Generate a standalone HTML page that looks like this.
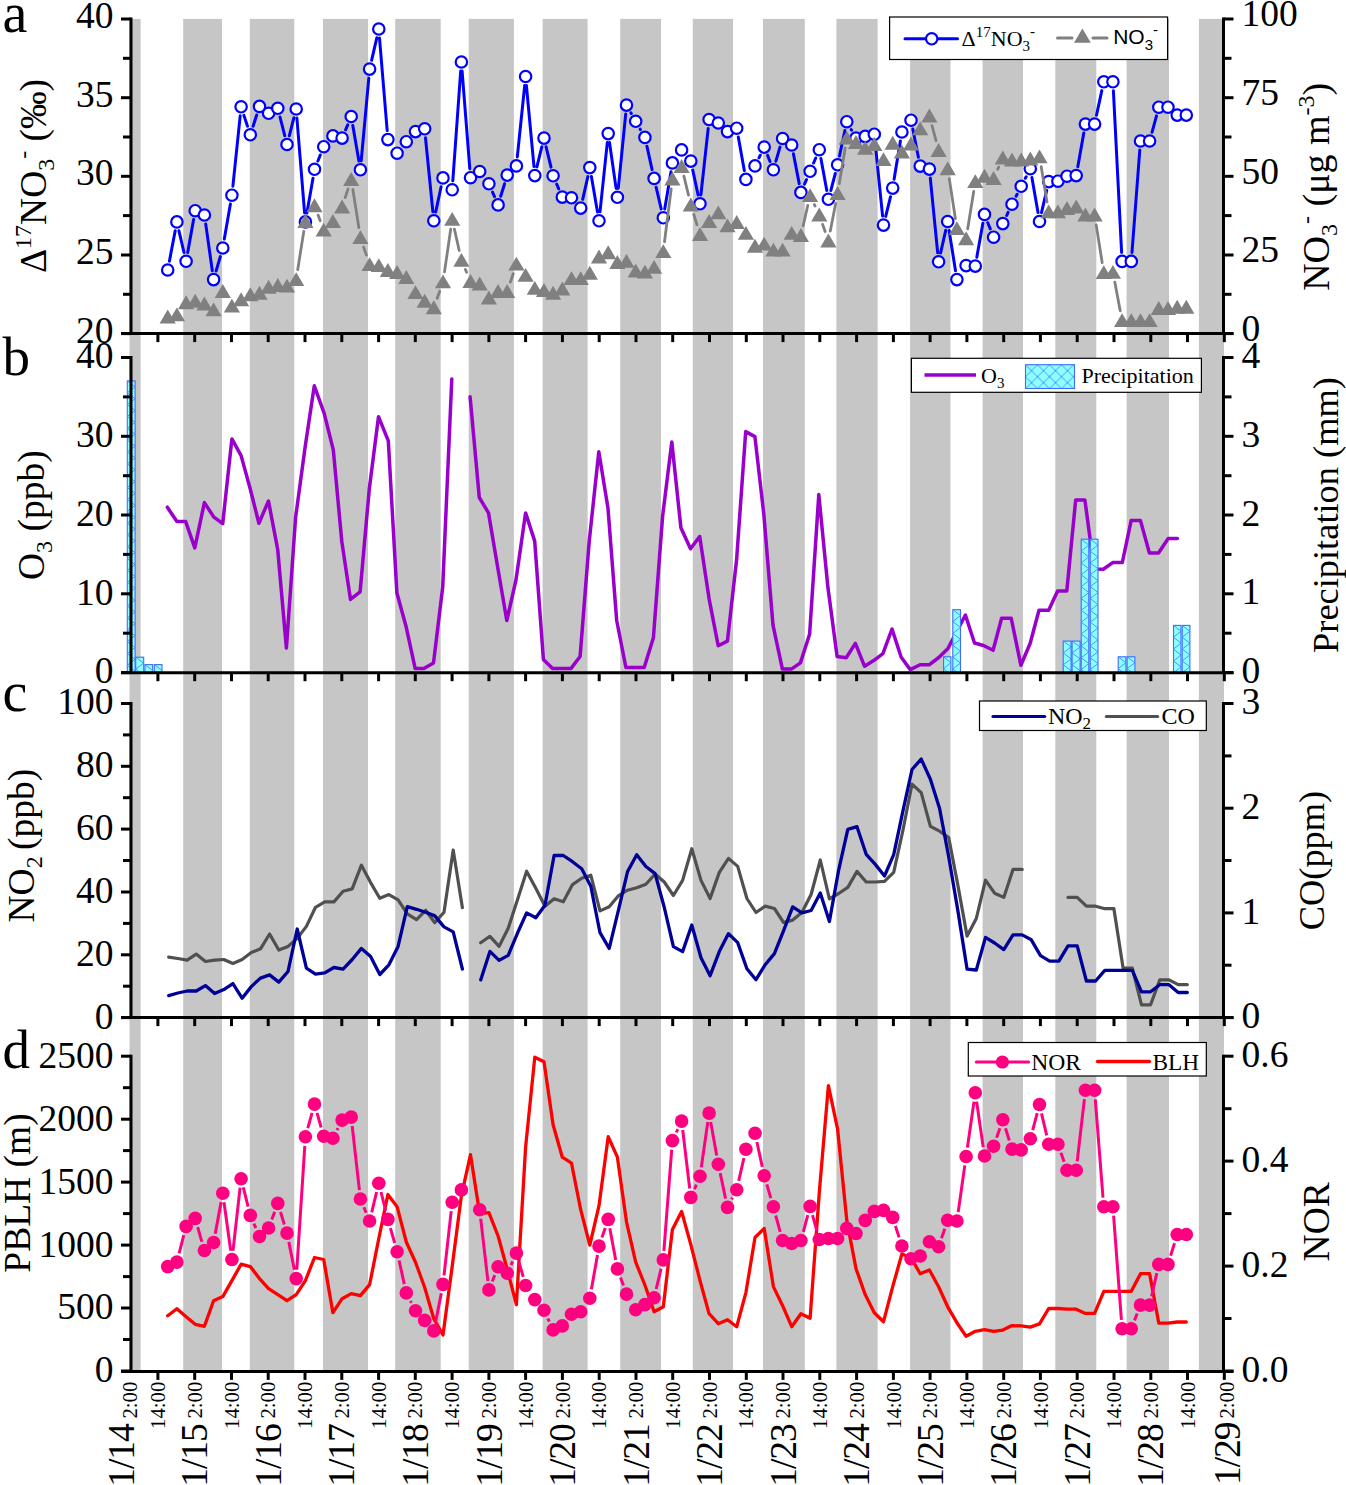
<!DOCTYPE html>
<html><head><meta charset="utf-8"><title>figure</title>
<style>
html,body{margin:0;padding:0;background:#fff;overflow:hidden;width:1346px;height:1485px;}
svg{display:block;}
text{font-family:"Liberation Serif",serif;fill:#000;}
</style></head><body>
<svg width="1346" height="1485" viewBox="0 0 1346 1485">
<defs><pattern id="hatch" patternUnits="userSpaceOnUse" width="7.8" height="11.8" x="0" y="0"><path d="M0 0L7.8 5.9L0 11.8M7.8 -5.9L0 0M7.8 17.7L0 11.8M0 0L7.8 -5.9" stroke="#3f78ff" stroke-width="0.9" fill="none"/></pattern><pattern id="hatch2" patternUnits="userSpaceOnUse" width="12" height="12" x="1025.5" y="364.7"><path d="M0 0L12 12M12 0L0 12M-6 6L6 -6M6 18L18 6M-6 6L6 18M6 -6L18 6" stroke="#4a86ff" stroke-width="0.9" fill="none"/></pattern></defs>
<rect width="1346" height="1485" fill="#fff"/>
<rect x="129.5" y="18.9" width="11.1" height="1352.1" fill="#c6c6c6"/>
<rect x="183.2" y="18.9" width="38.8" height="1352.1" fill="#c6c6c6"/>
<rect x="249.8" y="18.9" width="44.5" height="1352.1" fill="#c6c6c6"/>
<rect x="323" y="18.9" width="45" height="1352.1" fill="#c6c6c6"/>
<rect x="395.2" y="18.9" width="45.5" height="1352.1" fill="#c6c6c6"/>
<rect x="468.7" y="18.9" width="45.2" height="1352.1" fill="#c6c6c6"/>
<rect x="542.6" y="18.9" width="45" height="1352.1" fill="#c6c6c6"/>
<rect x="620.2" y="18.9" width="40.8" height="1352.1" fill="#c6c6c6"/>
<rect x="692.8" y="18.9" width="40.2" height="1352.1" fill="#c6c6c6"/>
<rect x="763" y="18.9" width="41.8" height="1352.1" fill="#c6c6c6"/>
<rect x="836.4" y="18.9" width="41.2" height="1352.1" fill="#c6c6c6"/>
<rect x="910.1" y="18.9" width="40.4" height="1352.1" fill="#c6c6c6"/>
<rect x="982.6" y="18.9" width="40.4" height="1352.1" fill="#c6c6c6"/>
<rect x="1055.3" y="18.9" width="41" height="1352.1" fill="#c6c6c6"/>
<rect x="1126.6" y="18.9" width="42.4" height="1352.1" fill="#c6c6c6"/>
<rect x="1198.9" y="18.9" width="25.1" height="1352.1" fill="#c6c6c6"/>
<path d="M169.4 261.2L175.2 230.7M178.9 230.7L184 252.5M187.7 252.4L193.6 219.6M205.7 223.9L212.3 270.7M216.1 271L220.3 256.6M224.3 239.1L230.4 204.1M232.9 186.2L240.2 115.8M243.9 115.4L247.5 126.2M253.1 126.2L256.7 115M280 117L284.8 135.8M289.3 135.8L293.9 117.7M296.9 118L304.6 212.9M306.9 213L313 178.2M317.9 161L320.3 155M345.6 129.8L347.7 124.8M352.8 125.4L358.9 160.9M361.2 160.8L368.8 78.1M371.6 60.3L376.8 37.8M379.5 38L387.2 130.6M425.5 137.8L432.9 211.8M435.7 212L441.1 186.7M452.8 180.8L460.7 71M462.1 71L469.8 168.7M492.5 192.1L494.5 196.6M500.7 196.3L504.6 183.7M517.3 156.9L524.7 85.5M526.4 85.5L534 166.6M536.9 166.9L541.8 146.8M546.1 146.8L551 167.1M556.7 184.1L558.7 188.8M582.7 199.3L587.9 176.4M591.4 176.5L597.5 211.9M600 211.8L607.3 142.6M609.5 142.5L616.1 188.4M618.3 188.3L625.7 114.1M631 112.9L631.3 113.5M640.2 129.1L640.4 129.6M646.9 146.2L652.1 169.6M656.1 187.2L661.2 209M664.7 208.9L671 171.8M692.7 169.9L698.1 195M700.9 194.9L708.2 128.4M738.3 137.1L744.3 170.5M759 157.8L760.3 155.2M767.6 155.4L770 161.5M775.9 161.2L780 147.1M793.4 153.8L799.2 183.6M804.5 184.1L806.5 179.6M813.6 163L815.7 158M820.9 158.5L826.8 190.5M830.8 190.6L835.3 173.5M839.5 156L844.9 130.5M851.2 129.6L851.6 130.2M875.2 143.2L882.6 216.1M885.7 216.4L890.5 196.8M894.1 179.2L900.4 140.9M912.8 129L918.4 157.3M930.3 178.1L937.7 252.8M940.6 253L945.7 230.3M949.1 230.4L955.5 270.7M976.8 257.2L982.9 223.3M987.8 222.7L990.3 228.9M1006.7 215.5L1008.1 212.3M1016.1 196.2L1017.1 194.3M1025.3 178.3L1026.2 176.7M1031.9 177.6L1038 212.6M1041.5 212.7L1046.7 190.4M1077.8 166.7L1083.8 133M1096.5 115.3L1101.8 90.6M1113.4 90.8L1121.6 252.4M1132 252.4L1139.8 150M1152 132.3L1156.5 115.9" stroke="#0000ff" stroke-width="3" fill="none" stroke-linecap="round"/>
<circle cx="167.7" cy="270" r="5.7" fill="#fff" stroke="#0000ff" stroke-width="2.2"/>
<circle cx="176.9" cy="221.9" r="5.7" fill="#fff" stroke="#0000ff" stroke-width="2.2"/>
<circle cx="186.1" cy="261.3" r="5.7" fill="#fff" stroke="#0000ff" stroke-width="2.2"/>
<circle cx="195.2" cy="210.7" r="5.7" fill="#fff" stroke="#0000ff" stroke-width="2.2"/>
<circle cx="204.4" cy="215" r="5.7" fill="#fff" stroke="#0000ff" stroke-width="2.2"/>
<circle cx="213.6" cy="279.6" r="5.7" fill="#fff" stroke="#0000ff" stroke-width="2.2"/>
<circle cx="222.8" cy="248" r="5.7" fill="#fff" stroke="#0000ff" stroke-width="2.2"/>
<circle cx="231.9" cy="195.2" r="5.7" fill="#fff" stroke="#0000ff" stroke-width="2.2"/>
<circle cx="241.1" cy="106.8" r="5.7" fill="#fff" stroke="#0000ff" stroke-width="2.2"/>
<circle cx="250.3" cy="134.8" r="5.7" fill="#fff" stroke="#0000ff" stroke-width="2.2"/>
<circle cx="259.5" cy="106.4" r="5.7" fill="#fff" stroke="#0000ff" stroke-width="2.2"/>
<circle cx="268.6" cy="113.3" r="5.7" fill="#fff" stroke="#0000ff" stroke-width="2.2"/>
<circle cx="277.8" cy="108.3" r="5.7" fill="#fff" stroke="#0000ff" stroke-width="2.2"/>
<circle cx="287" cy="144.5" r="5.7" fill="#fff" stroke="#0000ff" stroke-width="2.2"/>
<circle cx="296.2" cy="109" r="5.7" fill="#fff" stroke="#0000ff" stroke-width="2.2"/>
<circle cx="305.4" cy="221.9" r="5.7" fill="#fff" stroke="#0000ff" stroke-width="2.2"/>
<circle cx="314.5" cy="169.3" r="5.7" fill="#fff" stroke="#0000ff" stroke-width="2.2"/>
<circle cx="323.7" cy="146.7" r="5.7" fill="#fff" stroke="#0000ff" stroke-width="2.2"/>
<circle cx="332.9" cy="135.9" r="5.7" fill="#fff" stroke="#0000ff" stroke-width="2.2"/>
<circle cx="342.1" cy="138.1" r="5.7" fill="#fff" stroke="#0000ff" stroke-width="2.2"/>
<circle cx="351.2" cy="116.5" r="5.7" fill="#fff" stroke="#0000ff" stroke-width="2.2"/>
<circle cx="360.4" cy="169.8" r="5.7" fill="#fff" stroke="#0000ff" stroke-width="2.2"/>
<circle cx="369.6" cy="69.1" r="5.7" fill="#fff" stroke="#0000ff" stroke-width="2.2"/>
<circle cx="378.8" cy="29" r="5.7" fill="#fff" stroke="#0000ff" stroke-width="2.2"/>
<circle cx="387.9" cy="139.6" r="5.7" fill="#fff" stroke="#0000ff" stroke-width="2.2"/>
<circle cx="397.1" cy="153.2" r="5.7" fill="#fff" stroke="#0000ff" stroke-width="2.2"/>
<circle cx="406.3" cy="141.7" r="5.7" fill="#fff" stroke="#0000ff" stroke-width="2.2"/>
<circle cx="415.5" cy="131.6" r="5.7" fill="#fff" stroke="#0000ff" stroke-width="2.2"/>
<circle cx="424.7" cy="128.8" r="5.7" fill="#fff" stroke="#0000ff" stroke-width="2.2"/>
<circle cx="433.8" cy="220.8" r="5.7" fill="#fff" stroke="#0000ff" stroke-width="2.2"/>
<circle cx="443" cy="177.9" r="5.7" fill="#fff" stroke="#0000ff" stroke-width="2.2"/>
<circle cx="452.2" cy="189.8" r="5.7" fill="#fff" stroke="#0000ff" stroke-width="2.2"/>
<circle cx="461.4" cy="62" r="5.7" fill="#fff" stroke="#0000ff" stroke-width="2.2"/>
<circle cx="470.5" cy="177.7" r="5.7" fill="#fff" stroke="#0000ff" stroke-width="2.2"/>
<circle cx="479.7" cy="171.5" r="5.7" fill="#fff" stroke="#0000ff" stroke-width="2.2"/>
<circle cx="488.9" cy="183.8" r="5.7" fill="#fff" stroke="#0000ff" stroke-width="2.2"/>
<circle cx="498.1" cy="204.9" r="5.7" fill="#fff" stroke="#0000ff" stroke-width="2.2"/>
<circle cx="507.2" cy="175.1" r="5.7" fill="#fff" stroke="#0000ff" stroke-width="2.2"/>
<circle cx="516.4" cy="165.9" r="5.7" fill="#fff" stroke="#0000ff" stroke-width="2.2"/>
<circle cx="525.6" cy="76.5" r="5.7" fill="#fff" stroke="#0000ff" stroke-width="2.2"/>
<circle cx="534.8" cy="175.6" r="5.7" fill="#fff" stroke="#0000ff" stroke-width="2.2"/>
<circle cx="544" cy="138.1" r="5.7" fill="#fff" stroke="#0000ff" stroke-width="2.2"/>
<circle cx="553.1" cy="175.8" r="5.7" fill="#fff" stroke="#0000ff" stroke-width="2.2"/>
<circle cx="562.3" cy="197.1" r="5.7" fill="#fff" stroke="#0000ff" stroke-width="2.2"/>
<circle cx="571.5" cy="197.8" r="5.7" fill="#fff" stroke="#0000ff" stroke-width="2.2"/>
<circle cx="580.7" cy="208.1" r="5.7" fill="#fff" stroke="#0000ff" stroke-width="2.2"/>
<circle cx="589.8" cy="167.6" r="5.7" fill="#fff" stroke="#0000ff" stroke-width="2.2"/>
<circle cx="599" cy="220.8" r="5.7" fill="#fff" stroke="#0000ff" stroke-width="2.2"/>
<circle cx="608.2" cy="133.6" r="5.7" fill="#fff" stroke="#0000ff" stroke-width="2.2"/>
<circle cx="617.4" cy="197.3" r="5.7" fill="#fff" stroke="#0000ff" stroke-width="2.2"/>
<circle cx="626.5" cy="105.1" r="5.7" fill="#fff" stroke="#0000ff" stroke-width="2.2"/>
<circle cx="635.7" cy="121.3" r="5.7" fill="#fff" stroke="#0000ff" stroke-width="2.2"/>
<circle cx="644.9" cy="137.4" r="5.7" fill="#fff" stroke="#0000ff" stroke-width="2.2"/>
<circle cx="654.1" cy="178.4" r="5.7" fill="#fff" stroke="#0000ff" stroke-width="2.2"/>
<circle cx="663.3" cy="217.8" r="5.7" fill="#fff" stroke="#0000ff" stroke-width="2.2"/>
<circle cx="672.4" cy="162.9" r="5.7" fill="#fff" stroke="#0000ff" stroke-width="2.2"/>
<circle cx="681.6" cy="149.9" r="5.7" fill="#fff" stroke="#0000ff" stroke-width="2.2"/>
<circle cx="690.8" cy="161.1" r="5.7" fill="#fff" stroke="#0000ff" stroke-width="2.2"/>
<circle cx="700" cy="203.8" r="5.7" fill="#fff" stroke="#0000ff" stroke-width="2.2"/>
<circle cx="709.1" cy="119.5" r="5.7" fill="#fff" stroke="#0000ff" stroke-width="2.2"/>
<circle cx="718.3" cy="123" r="5.7" fill="#fff" stroke="#0000ff" stroke-width="2.2"/>
<circle cx="727.5" cy="131.6" r="5.7" fill="#fff" stroke="#0000ff" stroke-width="2.2"/>
<circle cx="736.7" cy="128.2" r="5.7" fill="#fff" stroke="#0000ff" stroke-width="2.2"/>
<circle cx="745.9" cy="179.4" r="5.7" fill="#fff" stroke="#0000ff" stroke-width="2.2"/>
<circle cx="755" cy="165.9" r="5.7" fill="#fff" stroke="#0000ff" stroke-width="2.2"/>
<circle cx="764.2" cy="147.1" r="5.7" fill="#fff" stroke="#0000ff" stroke-width="2.2"/>
<circle cx="773.4" cy="169.8" r="5.7" fill="#fff" stroke="#0000ff" stroke-width="2.2"/>
<circle cx="782.6" cy="138.5" r="5.7" fill="#fff" stroke="#0000ff" stroke-width="2.2"/>
<circle cx="791.7" cy="145" r="5.7" fill="#fff" stroke="#0000ff" stroke-width="2.2"/>
<circle cx="800.9" cy="192.4" r="5.7" fill="#fff" stroke="#0000ff" stroke-width="2.2"/>
<circle cx="810.1" cy="171.3" r="5.7" fill="#fff" stroke="#0000ff" stroke-width="2.2"/>
<circle cx="819.3" cy="149.7" r="5.7" fill="#fff" stroke="#0000ff" stroke-width="2.2"/>
<circle cx="828.4" cy="199.3" r="5.7" fill="#fff" stroke="#0000ff" stroke-width="2.2"/>
<circle cx="837.6" cy="164.8" r="5.7" fill="#fff" stroke="#0000ff" stroke-width="2.2"/>
<circle cx="846.8" cy="121.7" r="5.7" fill="#fff" stroke="#0000ff" stroke-width="2.2"/>
<circle cx="856" cy="138.1" r="5.7" fill="#fff" stroke="#0000ff" stroke-width="2.2"/>
<circle cx="865.2" cy="136.4" r="5.7" fill="#fff" stroke="#0000ff" stroke-width="2.2"/>
<circle cx="874.3" cy="134.2" r="5.7" fill="#fff" stroke="#0000ff" stroke-width="2.2"/>
<circle cx="883.5" cy="225.1" r="5.7" fill="#fff" stroke="#0000ff" stroke-width="2.2"/>
<circle cx="892.7" cy="188.1" r="5.7" fill="#fff" stroke="#0000ff" stroke-width="2.2"/>
<circle cx="901.9" cy="132" r="5.7" fill="#fff" stroke="#0000ff" stroke-width="2.2"/>
<circle cx="911" cy="120.2" r="5.7" fill="#fff" stroke="#0000ff" stroke-width="2.2"/>
<circle cx="920.2" cy="166.1" r="5.7" fill="#fff" stroke="#0000ff" stroke-width="2.2"/>
<circle cx="929.4" cy="169.1" r="5.7" fill="#fff" stroke="#0000ff" stroke-width="2.2"/>
<circle cx="938.6" cy="261.8" r="5.7" fill="#fff" stroke="#0000ff" stroke-width="2.2"/>
<circle cx="947.7" cy="221.5" r="5.7" fill="#fff" stroke="#0000ff" stroke-width="2.2"/>
<circle cx="956.9" cy="279.6" r="5.7" fill="#fff" stroke="#0000ff" stroke-width="2.2"/>
<circle cx="966.1" cy="265.6" r="5.7" fill="#fff" stroke="#0000ff" stroke-width="2.2"/>
<circle cx="975.3" cy="266.1" r="5.7" fill="#fff" stroke="#0000ff" stroke-width="2.2"/>
<circle cx="984.5" cy="214.4" r="5.7" fill="#fff" stroke="#0000ff" stroke-width="2.2"/>
<circle cx="993.6" cy="237.2" r="5.7" fill="#fff" stroke="#0000ff" stroke-width="2.2"/>
<circle cx="1002.8" cy="223.6" r="5.7" fill="#fff" stroke="#0000ff" stroke-width="2.2"/>
<circle cx="1012" cy="204.2" r="5.7" fill="#fff" stroke="#0000ff" stroke-width="2.2"/>
<circle cx="1021.2" cy="186.3" r="5.7" fill="#fff" stroke="#0000ff" stroke-width="2.2"/>
<circle cx="1030.3" cy="168.7" r="5.7" fill="#fff" stroke="#0000ff" stroke-width="2.2"/>
<circle cx="1039.5" cy="221.5" r="5.7" fill="#fff" stroke="#0000ff" stroke-width="2.2"/>
<circle cx="1048.7" cy="181.6" r="5.7" fill="#fff" stroke="#0000ff" stroke-width="2.2"/>
<circle cx="1057.9" cy="181.2" r="5.7" fill="#fff" stroke="#0000ff" stroke-width="2.2"/>
<circle cx="1067" cy="176.2" r="5.7" fill="#fff" stroke="#0000ff" stroke-width="2.2"/>
<circle cx="1076.2" cy="175.6" r="5.7" fill="#fff" stroke="#0000ff" stroke-width="2.2"/>
<circle cx="1085.4" cy="124.1" r="5.7" fill="#fff" stroke="#0000ff" stroke-width="2.2"/>
<circle cx="1094.6" cy="124.1" r="5.7" fill="#fff" stroke="#0000ff" stroke-width="2.2"/>
<circle cx="1103.8" cy="81.8" r="5.7" fill="#fff" stroke="#0000ff" stroke-width="2.2"/>
<circle cx="1112.9" cy="81.8" r="5.7" fill="#fff" stroke="#0000ff" stroke-width="2.2"/>
<circle cx="1122.1" cy="261.4" r="5.7" fill="#fff" stroke="#0000ff" stroke-width="2.2"/>
<circle cx="1131.3" cy="261.4" r="5.7" fill="#fff" stroke="#0000ff" stroke-width="2.2"/>
<circle cx="1140.5" cy="141" r="5.7" fill="#fff" stroke="#0000ff" stroke-width="2.2"/>
<circle cx="1149.6" cy="141" r="5.7" fill="#fff" stroke="#0000ff" stroke-width="2.2"/>
<circle cx="1158.8" cy="107.2" r="5.7" fill="#fff" stroke="#0000ff" stroke-width="2.2"/>
<circle cx="1168" cy="107.2" r="5.7" fill="#fff" stroke="#0000ff" stroke-width="2.2"/>
<circle cx="1177.2" cy="115.1" r="5.7" fill="#fff" stroke="#0000ff" stroke-width="2.2"/>
<circle cx="1186.3" cy="115.1" r="5.7" fill="#fff" stroke="#0000ff" stroke-width="2.2"/>
<path d="M297.7 269.7L303.8 231.4M318.1 215.1L320.2 220.7M345.2 197.5L348.1 188.9M352.8 189.3L358.9 227.7M363.6 247.1L366.4 255.1M437.2 298.3L439.7 291.2M444.5 271.9L450.7 229.2M454.4 229.1L459.2 250.5M465.4 269.5L466.6 272.2M510.4 282L513.3 273.6M664.5 241.7L671.2 188.9M683.9 176.2L688.5 195.2M693.8 214.4L697 224.9M803.2 225.8L807.8 205.3M814.4 204.6L815 206M822.6 224.4L825.1 231.5M830.3 231.1L835.7 203.3M839.3 183.6L845.2 148M932 125.6L936 140.7M949.3 178.6L955.4 218.7M967.7 228.8L973.7 191.5M997.7 169.3L998.7 167M1041.2 166.7L1047 201.9M1096.2 224.9L1102.2 262.7M1114.8 282.1L1120.2 310.8" stroke="#808080" stroke-width="2.8" fill="none" stroke-linecap="round"/>
<path d="M167.7 309.5L175.8 323.4L159.6 323.4Z" fill="#808080"/>
<path d="M176.9 307.4L185 321.3L168.8 321.3Z" fill="#808080"/>
<path d="M186.1 295.3L194.2 309.2L178 309.2Z" fill="#808080"/>
<path d="M195.2 293.8L203.3 307.7L187.1 307.7Z" fill="#808080"/>
<path d="M204.4 296.6L212.5 310.5L196.3 310.5Z" fill="#808080"/>
<path d="M213.6 302.4L221.7 316.3L205.5 316.3Z" fill="#808080"/>
<path d="M222.8 284.1L230.9 298L214.7 298Z" fill="#808080"/>
<path d="M231.9 298.7L240 312.6L223.8 312.6Z" fill="#808080"/>
<path d="M241.1 292.3L249.2 306.2L233 306.2Z" fill="#808080"/>
<path d="M250.3 287.3L258.4 301.2L242.2 301.2Z" fill="#808080"/>
<path d="M259.5 285.8L267.6 299.7L251.4 299.7Z" fill="#808080"/>
<path d="M268.6 279.8L276.7 293.7L260.5 293.7Z" fill="#808080"/>
<path d="M277.8 278.1L285.9 292L269.7 292Z" fill="#808080"/>
<path d="M287 278.7L295.1 292.6L278.9 292.6Z" fill="#808080"/>
<path d="M296.2 272.2L304.3 286.1L288.1 286.1Z" fill="#808080"/>
<path d="M305.4 214.1L313.5 228L297.3 228Z" fill="#808080"/>
<path d="M314.5 198.3L322.6 212.2L306.4 212.2Z" fill="#808080"/>
<path d="M323.7 222.7L331.8 236.6L315.6 236.6Z" fill="#808080"/>
<path d="M332.9 214.1L341 228L324.8 228Z" fill="#808080"/>
<path d="M342.1 199.6L350.2 213.5L334 213.5Z" fill="#808080"/>
<path d="M351.2 172L359.3 185.9L343.1 185.9Z" fill="#808080"/>
<path d="M360.4 230.2L368.5 244.1L352.3 244.1Z" fill="#808080"/>
<path d="M369.6 257.2L377.7 271.1L361.5 271.1Z" fill="#808080"/>
<path d="M378.8 258.2L386.9 272.1L370.7 272.1Z" fill="#808080"/>
<path d="M387.9 263L396 276.9L379.8 276.9Z" fill="#808080"/>
<path d="M397.1 265.1L405.2 279L389 279Z" fill="#808080"/>
<path d="M406.3 270.1L414.4 284L398.2 284Z" fill="#808080"/>
<path d="M415.5 285.2L423.6 299.1L407.4 299.1Z" fill="#808080"/>
<path d="M424.7 293.8L432.8 307.7L416.6 307.7Z" fill="#808080"/>
<path d="M433.8 300.3L441.9 314.2L425.7 314.2Z" fill="#808080"/>
<path d="M443 274.4L451.1 288.3L434.9 288.3Z" fill="#808080"/>
<path d="M452.2 211.9L460.3 225.8L444.1 225.8Z" fill="#808080"/>
<path d="M461.4 252.9L469.5 266.8L453.3 266.8Z" fill="#808080"/>
<path d="M470.5 274L478.6 287.9L462.4 287.9Z" fill="#808080"/>
<path d="M479.7 276.6L487.8 290.5L471.6 290.5Z" fill="#808080"/>
<path d="M488.9 290.6L497 304.5L480.8 304.5Z" fill="#808080"/>
<path d="M498.1 284.1L506.2 298L490 298Z" fill="#808080"/>
<path d="M507.2 284.1L515.3 298L499.1 298Z" fill="#808080"/>
<path d="M516.4 256.7L524.5 270.6L508.3 270.6Z" fill="#808080"/>
<path d="M525.6 267.9L533.7 281.8L517.5 281.8Z" fill="#808080"/>
<path d="M534.8 280.9L542.9 294.8L526.7 294.8Z" fill="#808080"/>
<path d="M544 283L552.1 296.9L535.9 296.9Z" fill="#808080"/>
<path d="M553.1 285.8L561.2 299.7L545 299.7Z" fill="#808080"/>
<path d="M562.3 281.5L570.4 295.4L554.2 295.4Z" fill="#808080"/>
<path d="M571.5 271.2L579.6 285.1L563.4 285.1Z" fill="#808080"/>
<path d="M580.7 271.2L588.8 285.1L572.6 285.1Z" fill="#808080"/>
<path d="M589.8 265.8L597.9 279.7L581.7 279.7Z" fill="#808080"/>
<path d="M599 249.6L607.1 263.5L590.9 263.5Z" fill="#808080"/>
<path d="M608.2 245.3L616.3 259.2L600.1 259.2Z" fill="#808080"/>
<path d="M617.4 255L625.5 268.9L609.3 268.9Z" fill="#808080"/>
<path d="M626.5 253.9L634.6 267.8L618.4 267.8Z" fill="#808080"/>
<path d="M635.7 263.6L643.8 277.5L627.6 277.5Z" fill="#808080"/>
<path d="M644.9 264.7L653 278.6L636.8 278.6Z" fill="#808080"/>
<path d="M654.1 259.9L662.2 273.8L646 273.8Z" fill="#808080"/>
<path d="M663.3 244.2L671.4 258.1L655.2 258.1Z" fill="#808080"/>
<path d="M672.4 171.6L680.5 185.5L664.3 185.5Z" fill="#808080"/>
<path d="M681.6 159.1L689.7 173L673.5 173Z" fill="#808080"/>
<path d="M690.8 197.5L698.9 211.4L682.7 211.4Z" fill="#808080"/>
<path d="M700 227L708.1 240.9L691.9 240.9Z" fill="#808080"/>
<path d="M709.1 214.1L717.2 228L701 228Z" fill="#808080"/>
<path d="M718.3 205.4L726.4 219.3L710.2 219.3Z" fill="#808080"/>
<path d="M727.5 218.4L735.6 232.3L719.4 232.3Z" fill="#808080"/>
<path d="M736.7 215.1L744.8 229L728.6 229Z" fill="#808080"/>
<path d="M745.9 225.9L754 239.8L737.8 239.8Z" fill="#808080"/>
<path d="M755 238.8L763.1 252.7L746.9 252.7Z" fill="#808080"/>
<path d="M764.2 236.7L772.3 250.6L756.1 250.6Z" fill="#808080"/>
<path d="M773.4 242.7L781.5 256.6L765.3 256.6Z" fill="#808080"/>
<path d="M782.6 242.7L790.7 256.6L774.5 256.6Z" fill="#808080"/>
<path d="M791.7 225.9L799.8 239.8L783.6 239.8Z" fill="#808080"/>
<path d="M800.9 228.1L809 242L792.8 242Z" fill="#808080"/>
<path d="M810.1 188.2L818.2 202.1L802 202.1Z" fill="#808080"/>
<path d="M819.3 207.6L827.4 221.5L811.2 221.5Z" fill="#808080"/>
<path d="M828.4 233.5L836.5 247.4L820.3 247.4Z" fill="#808080"/>
<path d="M837.6 186.1L845.7 200L829.5 200Z" fill="#808080"/>
<path d="M846.8 130.7L854.9 144.6L838.7 144.6Z" fill="#808080"/>
<path d="M856 135L864.1 148.9L847.9 148.9Z" fill="#808080"/>
<path d="M865.2 140.8L873.3 154.7L857.1 154.7Z" fill="#808080"/>
<path d="M874.3 137.1L882.4 151L866.2 151Z" fill="#808080"/>
<path d="M883.5 152.2L891.6 166.1L875.4 166.1Z" fill="#808080"/>
<path d="M892.7 135.8L900.8 149.7L884.6 149.7Z" fill="#808080"/>
<path d="M901.9 144.6L910 158.5L893.8 158.5Z" fill="#808080"/>
<path d="M911 136.5L919.1 150.4L902.9 150.4Z" fill="#808080"/>
<path d="M920.2 121.4L928.3 135.3L912.1 135.3Z" fill="#808080"/>
<path d="M929.4 108.5L937.5 122.4L921.3 122.4Z" fill="#808080"/>
<path d="M938.6 143L946.7 156.9L930.5 156.9Z" fill="#808080"/>
<path d="M947.7 161.3L955.8 175.2L939.6 175.2Z" fill="#808080"/>
<path d="M956.9 221.2L965 235.1L948.8 235.1Z" fill="#808080"/>
<path d="M966.1 231.3L974.2 245.2L958 245.2Z" fill="#808080"/>
<path d="M975.3 174.2L983.4 188.1L967.2 188.1Z" fill="#808080"/>
<path d="M984.5 168.8L992.6 182.7L976.4 182.7Z" fill="#808080"/>
<path d="M993.6 171L1001.7 184.9L985.5 184.9Z" fill="#808080"/>
<path d="M1002.8 150.5L1010.9 164.4L994.7 164.4Z" fill="#808080"/>
<path d="M1012 152.6L1020.1 166.5L1003.9 166.5Z" fill="#808080"/>
<path d="M1021.2 152.6L1029.3 166.5L1013.1 166.5Z" fill="#808080"/>
<path d="M1030.3 151.6L1038.4 165.5L1022.2 165.5Z" fill="#808080"/>
<path d="M1039.5 149.4L1047.6 163.3L1031.4 163.3Z" fill="#808080"/>
<path d="M1048.7 204.4L1056.8 218.3L1040.6 218.3Z" fill="#808080"/>
<path d="M1057.9 204.4L1066 218.3L1049.8 218.3Z" fill="#808080"/>
<path d="M1067 201.1L1075.1 215L1058.9 215Z" fill="#808080"/>
<path d="M1076.2 199.6L1084.3 213.5L1068.1 213.5Z" fill="#808080"/>
<path d="M1085.4 207.6L1093.5 221.5L1077.3 221.5Z" fill="#808080"/>
<path d="M1094.6 207.6L1102.7 221.5L1086.5 221.5Z" fill="#808080"/>
<path d="M1103.8 265.2L1111.9 279.1L1095.7 279.1Z" fill="#808080"/>
<path d="M1112.9 264.9L1121 278.8L1104.8 278.8Z" fill="#808080"/>
<path d="M1122.1 313.2L1130.2 327.1L1114 327.1Z" fill="#808080"/>
<path d="M1131.3 313.2L1139.4 327.1L1123.2 327.1Z" fill="#808080"/>
<path d="M1140.5 313.2L1148.6 327.1L1132.4 327.1Z" fill="#808080"/>
<path d="M1149.6 313.2L1157.7 327.1L1141.5 327.1Z" fill="#808080"/>
<path d="M1158.8 301.1L1166.9 315L1150.7 315Z" fill="#808080"/>
<path d="M1168 301.1L1176.1 315L1159.9 315Z" fill="#808080"/>
<path d="M1177.2 299.8L1185.3 313.7L1169.1 313.7Z" fill="#808080"/>
<path d="M1186.3 299.8L1194.4 313.7L1178.2 313.7Z" fill="#808080"/>
<polyline points="167.3,507.2 176.9,521.4 185.6,521.4 194.8,547.9 204.4,502.6 213.6,516.8 222.7,523.7 231.9,438.9 241.1,455.6 250.2,488.8 258.9,523.2 268.5,501 277.7,549.5 286.4,648 295.6,517.5 305.2,446.5 314.3,385.8 324.2,413.3 333.3,449.9 341.8,541.5 350.5,599.4 360.1,591.9 369.3,488.8 378.5,416.7 388.3,440.8 396.9,593 406,626.2 415.2,668.6 423.9,668.6 433.5,662.9 442.7,587.3 451.8,378.9" stroke="#9900cc" stroke-width="3.5" fill="none" stroke-linejoin="round" stroke-linecap="round"/>
<polyline points="470.1,396.8 479.3,497.5 488.5,512.9 497.6,566.7 506.8,620.5 515.9,580.4 525.6,512.9 534.7,541.1 543.4,659.4 552.6,668.6 561.7,668.6 570.9,668.6 580.1,656.5 589.2,541.5 598.8,451.7 608,508.3 616.7,620.5 625.9,667.5 635,667.5 644.2,667.5 653.4,637.7 662.6,516.3 671.8,441.9 680.9,527.8 690.5,548.8 699.7,536.5 709.1,598.8 718.2,645.7 727.4,641.1 736.6,559.8 745.7,431.6 754.9,436.6 763.8,514 773,625.1 782.4,669.1 791.3,669.1 800.4,662.9 809.6,634.3 818.8,494.6 827.9,587.3 837.1,656.5 846.2,657.8 855.4,643.4 864.6,666.3 873.7,660.6 882.9,653.7 892,629 901.2,657.2 910.3,669.6 920,664.8 929.1,664.8 938.8,657.5 948,648.4 956.5,632 965.4,615 974.5,643 983.5,645.5 993.1,650.3 1001.6,618.2 1011.2,618.2 1020.9,665.3 1030.1,643.5 1039,610.2 1048.7,610.2 1057.6,590.9 1066.8,590.9 1075.7,499.9 1084.9,499.9 1094.1,569 1103.3,569.2 1112.7,562.6 1122.3,562.6 1131.2,520.4 1140.4,520.4 1149.4,553 1158.5,553 1168.2,538.5 1177.4,538.5" stroke="#9900cc" stroke-width="3.5" fill="none" stroke-linejoin="round" stroke-linecap="round"/>
<rect x="127.3" y="380.9" width="7.8" height="291.8" fill="#8cffff" stroke="#3f6bff" stroke-width="1.1"/>
<polyline points="127.3,380.9 135.1,386.8 127.3,392.8 135.1,398.7 127.3,404.6 135.1,410.5 127.3,416.4 135.1,422.4 127.3,428.3 135.1,434.2 127.3,440.1 135.1,446.1 127.3,452 135.1,457.9 127.3,463.8 135.1,469.8 127.3,475.7 135.1,481.6 127.3,487.5 135.1,493.5 127.3,499.4 135.1,505.3 127.3,511.2 135.1,517.2 127.3,523.1 135.1,529 127.3,534.9 135.1,540.9 127.3,546.8 135.1,552.7 127.3,558.6 135.1,564.6 127.3,570.5 135.1,576.4 127.3,582.3 135.1,588.3 127.3,594.2 135.1,600.1 127.3,606 135.1,612 127.3,617.9 135.1,623.8 127.3,629.8 135.1,635.7 127.3,641.6 135.1,647.5 127.3,653.5 135.1,659.4 127.3,665.3 135.1,671.2 133.2,672.7" stroke="#4a86ff" stroke-width="0.9" fill="none"/>
<rect x="135.7" y="657.2" width="8" height="15.5" fill="#8cffff" stroke="#3f6bff" stroke-width="1.1"/>
<polyline points="135.7,657.2 143.7,663.1 135.7,669.1 140.6,672.7" stroke="#4a86ff" stroke-width="0.9" fill="none"/>
<rect x="144.9" y="664.6" width="7.8" height="8.1" fill="#8cffff" stroke="#3f6bff" stroke-width="1.1"/>
<polyline points="144.9,664.6 152.7,670.5 149.8,672.7" stroke="#4a86ff" stroke-width="0.9" fill="none"/>
<rect x="154.3" y="664.6" width="7.7" height="8.1" fill="#8cffff" stroke="#3f6bff" stroke-width="1.1"/>
<polyline points="154.3,664.6 162,670.5 159.2,672.7" stroke="#4a86ff" stroke-width="0.9" fill="none"/>
<rect x="943.6" y="656.8" width="7.3" height="15.9" fill="#8cffff" stroke="#3f6bff" stroke-width="1.1"/>
<polyline points="943.6,656.8 950.9,662.7 943.6,668.6 948.6,672.7" stroke="#4a86ff" stroke-width="0.9" fill="none"/>
<rect x="952.8" y="609.7" width="7.7" height="63" fill="#8cffff" stroke="#3f6bff" stroke-width="1.1"/>
<polyline points="952.8,609.7 960.5,615.6 952.8,621.6 960.5,627.5 952.8,633.4 960.5,639.3 952.8,645.2 960.5,651.2 952.8,657.1 960.5,663 952.8,669 957.7,672.7" stroke="#4a86ff" stroke-width="0.9" fill="none"/>
<rect x="1063.2" y="641.1" width="7.9" height="31.6" fill="#8cffff" stroke="#3f6bff" stroke-width="1.1"/>
<polyline points="1063.2,641.1 1071.1,647 1063.2,653 1071.1,658.9 1063.2,664.8 1071.1,670.7 1068.5,672.7" stroke="#4a86ff" stroke-width="0.9" fill="none"/>
<rect x="1072.1" y="641.1" width="8" height="31.6" fill="#8cffff" stroke="#3f6bff" stroke-width="1.1"/>
<polyline points="1072.1,641.1 1080.1,647 1072.1,653 1080.1,658.9 1072.1,664.8 1080.1,670.7 1077.4,672.7" stroke="#4a86ff" stroke-width="0.9" fill="none"/>
<rect x="1081.2" y="539.2" width="7.6" height="133.5" fill="#8cffff" stroke="#3f6bff" stroke-width="1.1"/>
<polyline points="1081.2,539.2 1088.8,545.1 1081.2,551.1 1088.8,557 1081.2,562.9 1088.8,568.8 1081.2,574.8 1088.8,580.7 1081.2,586.6 1088.8,592.5 1081.2,598.5 1088.8,604.4 1081.2,610.3 1088.8,616.2 1081.2,622.2 1088.8,628.1 1081.2,634 1088.8,639.9 1081.2,645.9 1088.8,651.8 1081.2,657.7 1088.8,663.6 1081.2,669.6 1085.2,672.7" stroke="#4a86ff" stroke-width="0.9" fill="none"/>
<rect x="1090.2" y="539.2" width="7.8" height="133.5" fill="#8cffff" stroke="#3f6bff" stroke-width="1.1"/>
<polyline points="1090.2,539.2 1098,545.1 1090.2,551.1 1098,557 1090.2,562.9 1098,568.8 1090.2,574.8 1098,580.7 1090.2,586.6 1098,592.5 1090.2,598.5 1098,604.4 1090.2,610.3 1098,616.2 1090.2,622.2 1098,628.1 1090.2,634 1098,639.9 1090.2,645.9 1098,651.8 1090.2,657.7 1098,663.6 1090.2,669.6 1094.3,672.7" stroke="#4a86ff" stroke-width="0.9" fill="none"/>
<rect x="1118.2" y="656.8" width="7.7" height="15.9" fill="#8cffff" stroke="#3f6bff" stroke-width="1.1"/>
<polyline points="1118.2,656.8 1125.9,662.7 1118.2,668.6 1123.5,672.7" stroke="#4a86ff" stroke-width="0.9" fill="none"/>
<rect x="1127.1" y="656.8" width="7.8" height="15.9" fill="#8cffff" stroke="#3f6bff" stroke-width="1.1"/>
<polyline points="1127.1,656.8 1134.9,662.7 1127.1,668.6 1132.4,672.7" stroke="#4a86ff" stroke-width="0.9" fill="none"/>
<rect x="1173.5" y="625.4" width="7.5" height="47.3" fill="#8cffff" stroke="#3f6bff" stroke-width="1.1"/>
<polyline points="1173.5,625.4 1181,631.3 1173.5,637.2 1181,643.2 1173.5,649.1 1181,655 1173.5,660.9 1181,666.9 1173.6,672.7" stroke="#4a86ff" stroke-width="0.9" fill="none"/>
<rect x="1182.2" y="625.4" width="7.7" height="47.3" fill="#8cffff" stroke="#3f6bff" stroke-width="1.1"/>
<polyline points="1182.2,625.4 1189.9,631.3 1182.2,637.2 1189.9,643.2 1182.2,649.1 1189.9,655 1182.2,660.9 1189.9,666.9 1182.3,672.7" stroke="#4a86ff" stroke-width="0.9" fill="none"/>
<polyline points="168.7,957.1 177.9,958.5 187.1,960.1 196.2,954.1 205.4,961.5 214.6,960.1 223.8,959.5 232.9,963.5 242.1,959.5 251.3,952.5 260.5,948.8 269.6,934 278.8,950 288,946.4 297.2,938.4 306.4,926.4 315.5,907.3 324.7,901.9 333.9,901.9 343.1,891.3 352.2,888.9 361.4,865.2 370.6,882.6 379.8,898.3 388.9,894.6 398.1,899.8 407.3,913.9 416.5,919.7 425.7,910.3 434.8,922.7 444,912.3 453.2,850.1 462.4,907.7" stroke="#505050" stroke-width="3.2" fill="none" stroke-linejoin="round" stroke-linecap="round"/>
<polyline points="480.7,942.8 489.9,936.3 499.1,946.4 508.2,928.3 517.4,900 526.6,871.2 535.8,888.2 545,906.3 554.1,898.8 563.3,901.8 572.5,884.6 581.7,878.2 590.8,875.2 600,910.9 609.2,906.7 618.4,895.8 627.5,890.2 636.7,887.8 645.9,884.2 655.1,874 664.3,882 673.4,895.5 682.6,880.4 691.8,848.7 701,880.4 710.1,898.5 719.3,872.4 728.5,858.4 737.7,866.4 746.9,898.5 756,912.5 765.2,906.1 774.4,908.5 783.6,922.5 792.7,920.1 801.9,912.5 811.1,894.5 820.3,860 829.4,898.9 838.6,893.5 847.8,887.4 857,871.4 866.2,882 875.3,882 884.5,881.4 893.7,872.4 902.9,830.3 912,784.1 921.2,792.7 930.4,826.3 939.6,831.2 948.7,837.6 957.9,885.4 967.1,936.1 976.3,918.5 985.5,880.2 994.6,893.2 1003.8,897.4 1013,869.4 1022.2,869.4" stroke="#505050" stroke-width="3.2" fill="none" stroke-linejoin="round" stroke-linecap="round"/>
<polyline points="1068,897.4 1077.2,897.4 1086.4,906.2 1095.6,906.2 1104.8,908.7 1113.9,908.7 1123.1,968 1132.3,968 1141.5,1004.8 1150.6,1004.8 1159.8,979.8 1169,979.8 1178.2,984.7 1187.3,984.7" stroke="#505050" stroke-width="3.2" fill="none" stroke-linejoin="round" stroke-linecap="round"/>
<polyline points="168.7,995.6 177.9,993 187.1,991 196.2,991 205.4,985.6 214.6,993.6 223.8,989.6 232.9,983.6 242.1,998.2 251.3,986.6 260.5,978.1 269.6,974.9 278.8,982.1 288,971.5 297.2,929 306.4,968.1 315.5,974.1 324.7,972.9 333.9,967.5 343.1,969.1 352.2,959.5 361.4,948.4 370.6,956.5 379.8,974.5 388.9,964.8 398.1,946.4 407.3,906.7 416.5,909.3 425.7,912.3 434.8,915.9 444,926.9 453.2,931.9 462.4,969" stroke="#000099" stroke-width="3.3" fill="none" stroke-linejoin="round" stroke-linecap="round"/>
<polyline points="480.7,979.9 489.9,951.4 499.1,960.4 508.2,955.4 517.4,933.3 526.6,912.9 535.8,917.7 545,905.3 554.1,855.5 563.3,855.5 572.5,861.7 581.7,868.7 590.8,886.2 600,932.7 609.2,948.4 618.4,910.3 627.5,871.8 636.7,854.7 645.9,866.5 655.1,873.6 664.3,907.5 673.4,946.6 682.6,951.6 691.8,925 701,957.7 710.1,975.7 719.3,951.6 728.5,933.6 737.7,942.6 746.9,968.7 756,979.7 765.2,964.7 774.4,953.6 783.6,930.6 792.7,906.9 801.9,912.9 811.1,910.5 820.3,892.9 829.4,921.5 838.6,870.4 847.8,829.3 857,826.7 866.2,854.3 875.3,864.4 884.5,876 893.7,854.7 902.9,811.2 912,769.5 921.2,759.1 930.4,779.2 939.6,808.6 948.7,856.8 957.9,910.9 967.1,969.2 976.3,970 985.5,937.4 994.6,943 1003.8,949.6 1013,934.9 1022.2,934.9 1031.3,939.8 1040.5,955.7 1049.7,961.1 1058.9,961.1 1068,945.9 1077.2,945.9 1086.4,981 1095.6,981 1104.8,970.4 1113.9,970.4 1123.1,970.4 1132.3,970.4 1141.5,991.8 1150.6,991.8 1159.8,984.7 1169,984.7 1178.2,992.5 1187.3,992.5" stroke="#000099" stroke-width="3.3" fill="none" stroke-linejoin="round" stroke-linecap="round"/>
<polyline points="167.7,1315.7 176.9,1308.7 186.1,1316.7 195.2,1324.3 204.4,1326.3 213.6,1300.7 222.8,1296.6 231.9,1280.6 241.1,1264.2 250.3,1266.6 259.5,1278.6 268.6,1288.6 277.8,1294.6 287,1300.7 296.2,1294.6 305.4,1280.6 314.5,1257.5 323.7,1259.5 332.9,1312.7 342.1,1298.7 351.2,1293.6 360.4,1295.6 369.6,1284.6 378.8,1238.5 387.9,1194.5 397.1,1206.7 406.3,1242 415.5,1262.2 424.7,1287.5 433.8,1318.8 443,1335 452.2,1266.3 461.4,1195.6 470.5,1154.7 479.7,1213.7 488.9,1212.7 498.1,1236 507.2,1269.3 516.4,1304.6 525.6,1147.1 534.8,1057.2 544,1061.8 553.1,1124.8 562.3,1157.2 571.5,1163.2 580.7,1209.7 589.8,1245.1 599,1205.7 608.2,1136.6 617.4,1157.2 626.5,1221.8 635.7,1262.2 644.9,1285 654.1,1311.7 663.3,1306.7 672.4,1229.4 681.6,1211.4 690.8,1244.5 700,1280.6 709.1,1313.7 718.3,1323.7 727.5,1319.7 736.7,1326.7 745.9,1292.6 755,1237.5 764.2,1228.4 773.4,1286.6 782.6,1305.7 791.7,1326.7 800.9,1313.7 810.1,1318.3 819.3,1192.3 828.4,1085.6 837.6,1129.1 846.8,1220.4 856,1268.6 865.2,1294.6 874.3,1312.7 883.5,1321.7 892.7,1286.6 901.9,1254 911,1257.7 920.2,1273.7 929.4,1270 938.6,1286.7 947.7,1306.8 956.9,1322.7 966.1,1336.2 975.3,1331.3 984.5,1329.6 993.6,1331.3 1002.8,1330.1 1012,1325.6 1021.2,1325.9 1030.3,1327.1 1039.5,1323.9 1048.7,1308.5 1057.9,1308.5 1067,1309.2 1076.2,1309.2 1085.4,1313.4 1094.6,1313.4 1103.8,1291.3 1112.9,1291.3 1122.1,1291.3 1131.3,1291.3 1140.5,1273.7 1149.6,1273.7 1158.8,1323.2 1168,1323.2 1177.2,1322 1186.3,1322" stroke="#ff0000" stroke-width="3.3" fill="none" stroke-linejoin="round" stroke-linecap="round"/>
<path d="M179.1 1253.4L183.8 1235.1M197.7 1227.1L201.9 1241.8M215.2 1233.7L221.1 1202.1M224 1202.2L230.7 1250.6M233 1250.6L240.1 1187.6M243.3 1187.4L248.1 1206.7M253.9 1223.7L255.9 1228.2M271.8 1219.6L274.7 1211.8M280.5 1212L284.3 1224.5M288.8 1241.9L294.4 1269.8M296.8 1269.6L304.8 1145.8M307.8 1128.1L312.1 1112.8M317 1112.8L321.2 1127.5M337 1130.2L338 1128.1M352.2 1126L359.4 1190.1M363.9 1207.3L366.1 1212.7M371.7 1212.3L376.6 1192M381 1192L385.7 1210.7M390.4 1228.1L394.7 1243M399.1 1260.5L404.3 1284.1M410.4 1300.9L411.4 1302.7M435.6 1322.1L441.3 1293.2M444 1275.5L451.2 1211.1M480.7 1218.6L487.9 1281M492.2 1281.5L494.8 1275.1M511 1265.1L512.7 1261.3M518.9 1261.8L523.2 1276.8M547.8 1318.5L549.3 1321.7M591.4 1289.3L597.5 1255M601.9 1237.6L605.3 1227.9M609.8 1228.2L615.7 1260.1M620.5 1277.4L623.5 1285.6M656.2 1289L661.1 1268.6M663.9 1250.9L671.7 1149.6M676.3 1132.5L677.8 1129.2M682.7 1130L689.7 1188.5M694.4 1189.1L696.4 1184.6M701.3 1167.4L707.8 1122M710.7 1122L716.7 1155.4M720.2 1173.1L725.6 1198.6M731.6 1199.4L732.5 1197.7M738.7 1180.9L743.9 1158M756.9 1142L762.3 1166.9M766.8 1184.3L770.8 1198.2M775.7 1215.5L780.2 1231.8M803.3 1231.8L807.8 1215.1M812.5 1215.1L816.9 1230.8M895.4 1226L899.1 1237.4M941.5 1238.2L944.8 1228.7M958.2 1212.1L964.8 1165.4M967.4 1147.6L974 1101.6M976.6 1101.6L983.2 1147.1M996.6 1137.7L999.9 1128.2M1005.5 1128.3L1009.3 1140.5M1032.7 1130.1L1037.2 1113.2M1041.5 1113.3L1046.7 1135.4M1060.9 1152.7L1064.1 1161.7M1077.2 1161.3L1084.4 1099.2M1095.3 1099.3L1103 1197.7M1113.6 1215.7L1121.4 1319.8M1134.5 1320.4L1137.2 1313.5M1151.6 1296.3L1156.8 1273.2M1170.6 1255.8L1174.5 1243.1" stroke="#ff0080" stroke-width="3" fill="none"/>
<circle cx="167.7" cy="1266.6" r="6.8" fill="#ff0080"/>
<circle cx="176.9" cy="1262.1" r="6.8" fill="#ff0080"/>
<circle cx="186.1" cy="1226.4" r="6.8" fill="#ff0080"/>
<circle cx="195.2" cy="1218.4" r="6.8" fill="#ff0080"/>
<circle cx="204.4" cy="1250.5" r="6.8" fill="#ff0080"/>
<circle cx="213.6" cy="1242.5" r="6.8" fill="#ff0080"/>
<circle cx="222.8" cy="1193.3" r="6.8" fill="#ff0080"/>
<circle cx="231.9" cy="1259.5" r="6.8" fill="#ff0080"/>
<circle cx="241.1" cy="1178.7" r="6.8" fill="#ff0080"/>
<circle cx="250.3" cy="1215.4" r="6.8" fill="#ff0080"/>
<circle cx="259.5" cy="1236.5" r="6.8" fill="#ff0080"/>
<circle cx="268.6" cy="1228" r="6.8" fill="#ff0080"/>
<circle cx="277.8" cy="1203.4" r="6.8" fill="#ff0080"/>
<circle cx="287" cy="1233.1" r="6.8" fill="#ff0080"/>
<circle cx="296.2" cy="1278.6" r="6.8" fill="#ff0080"/>
<circle cx="305.4" cy="1136.8" r="6.8" fill="#ff0080"/>
<circle cx="314.5" cy="1104.1" r="6.8" fill="#ff0080"/>
<circle cx="323.7" cy="1136.2" r="6.8" fill="#ff0080"/>
<circle cx="332.9" cy="1138.2" r="6.8" fill="#ff0080"/>
<circle cx="342.1" cy="1120.1" r="6.8" fill="#ff0080"/>
<circle cx="351.2" cy="1117.1" r="6.8" fill="#ff0080"/>
<circle cx="360.4" cy="1199" r="6.8" fill="#ff0080"/>
<circle cx="369.6" cy="1221" r="6.8" fill="#ff0080"/>
<circle cx="378.8" cy="1183.3" r="6.8" fill="#ff0080"/>
<circle cx="387.9" cy="1219.4" r="6.8" fill="#ff0080"/>
<circle cx="397.1" cy="1251.7" r="6.8" fill="#ff0080"/>
<circle cx="406.3" cy="1292.9" r="6.8" fill="#ff0080"/>
<circle cx="415.5" cy="1310.7" r="6.8" fill="#ff0080"/>
<circle cx="424.7" cy="1320.4" r="6.8" fill="#ff0080"/>
<circle cx="433.8" cy="1330.9" r="6.8" fill="#ff0080"/>
<circle cx="443" cy="1284.4" r="6.8" fill="#ff0080"/>
<circle cx="452.2" cy="1202.2" r="6.8" fill="#ff0080"/>
<circle cx="461.4" cy="1189.9" r="6.8" fill="#ff0080"/>
<circle cx="479.7" cy="1209.7" r="6.8" fill="#ff0080"/>
<circle cx="488.9" cy="1289.9" r="6.8" fill="#ff0080"/>
<circle cx="498.1" cy="1266.7" r="6.8" fill="#ff0080"/>
<circle cx="507.2" cy="1273.3" r="6.8" fill="#ff0080"/>
<circle cx="516.4" cy="1253.1" r="6.8" fill="#ff0080"/>
<circle cx="525.6" cy="1285.5" r="6.8" fill="#ff0080"/>
<circle cx="534.8" cy="1299.6" r="6.8" fill="#ff0080"/>
<circle cx="544" cy="1310.3" r="6.8" fill="#ff0080"/>
<circle cx="553.1" cy="1329.9" r="6.8" fill="#ff0080"/>
<circle cx="562.3" cy="1325.9" r="6.8" fill="#ff0080"/>
<circle cx="571.5" cy="1314.3" r="6.8" fill="#ff0080"/>
<circle cx="580.7" cy="1311.7" r="6.8" fill="#ff0080"/>
<circle cx="589.8" cy="1298.2" r="6.8" fill="#ff0080"/>
<circle cx="599" cy="1246.1" r="6.8" fill="#ff0080"/>
<circle cx="608.2" cy="1219.4" r="6.8" fill="#ff0080"/>
<circle cx="617.4" cy="1268.9" r="6.8" fill="#ff0080"/>
<circle cx="626.5" cy="1294.1" r="6.8" fill="#ff0080"/>
<circle cx="635.7" cy="1309.7" r="6.8" fill="#ff0080"/>
<circle cx="644.9" cy="1304.6" r="6.8" fill="#ff0080"/>
<circle cx="654.1" cy="1297.7" r="6.8" fill="#ff0080"/>
<circle cx="663.3" cy="1259.9" r="6.8" fill="#ff0080"/>
<circle cx="672.4" cy="1140.6" r="6.8" fill="#ff0080"/>
<circle cx="681.6" cy="1121.1" r="6.8" fill="#ff0080"/>
<circle cx="690.8" cy="1197.4" r="6.8" fill="#ff0080"/>
<circle cx="700" cy="1176.3" r="6.8" fill="#ff0080"/>
<circle cx="709.1" cy="1113.1" r="6.8" fill="#ff0080"/>
<circle cx="718.3" cy="1164.3" r="6.8" fill="#ff0080"/>
<circle cx="727.5" cy="1207.4" r="6.8" fill="#ff0080"/>
<circle cx="736.7" cy="1189.7" r="6.8" fill="#ff0080"/>
<circle cx="745.9" cy="1149.2" r="6.8" fill="#ff0080"/>
<circle cx="755" cy="1133.2" r="6.8" fill="#ff0080"/>
<circle cx="764.2" cy="1175.7" r="6.8" fill="#ff0080"/>
<circle cx="773.4" cy="1206.8" r="6.8" fill="#ff0080"/>
<circle cx="782.6" cy="1240.5" r="6.8" fill="#ff0080"/>
<circle cx="791.7" cy="1243.5" r="6.8" fill="#ff0080"/>
<circle cx="800.9" cy="1240.5" r="6.8" fill="#ff0080"/>
<circle cx="810.1" cy="1206.4" r="6.8" fill="#ff0080"/>
<circle cx="819.3" cy="1239.5" r="6.8" fill="#ff0080"/>
<circle cx="828.4" cy="1238.5" r="6.8" fill="#ff0080"/>
<circle cx="837.6" cy="1238.5" r="6.8" fill="#ff0080"/>
<circle cx="846.8" cy="1228.4" r="6.8" fill="#ff0080"/>
<circle cx="856" cy="1233.5" r="6.8" fill="#ff0080"/>
<circle cx="865.2" cy="1220.4" r="6.8" fill="#ff0080"/>
<circle cx="874.3" cy="1211.4" r="6.8" fill="#ff0080"/>
<circle cx="883.5" cy="1210.4" r="6.8" fill="#ff0080"/>
<circle cx="892.7" cy="1217.4" r="6.8" fill="#ff0080"/>
<circle cx="901.9" cy="1246" r="6.8" fill="#ff0080"/>
<circle cx="911" cy="1258.8" r="6.8" fill="#ff0080"/>
<circle cx="920.2" cy="1256" r="6.8" fill="#ff0080"/>
<circle cx="929.4" cy="1241.8" r="6.8" fill="#ff0080"/>
<circle cx="938.6" cy="1246.7" r="6.8" fill="#ff0080"/>
<circle cx="947.7" cy="1220.2" r="6.8" fill="#ff0080"/>
<circle cx="956.9" cy="1221" r="6.8" fill="#ff0080"/>
<circle cx="966.1" cy="1156.5" r="6.8" fill="#ff0080"/>
<circle cx="975.3" cy="1092.7" r="6.8" fill="#ff0080"/>
<circle cx="984.5" cy="1156" r="6.8" fill="#ff0080"/>
<circle cx="993.6" cy="1146.2" r="6.8" fill="#ff0080"/>
<circle cx="1002.8" cy="1119.7" r="6.8" fill="#ff0080"/>
<circle cx="1012" cy="1149.1" r="6.8" fill="#ff0080"/>
<circle cx="1021.2" cy="1149.9" r="6.8" fill="#ff0080"/>
<circle cx="1030.3" cy="1138.8" r="6.8" fill="#ff0080"/>
<circle cx="1039.5" cy="1104.5" r="6.8" fill="#ff0080"/>
<circle cx="1048.7" cy="1144.2" r="6.8" fill="#ff0080"/>
<circle cx="1057.9" cy="1144.2" r="6.8" fill="#ff0080"/>
<circle cx="1067" cy="1170.2" r="6.8" fill="#ff0080"/>
<circle cx="1076.2" cy="1170.2" r="6.8" fill="#ff0080"/>
<circle cx="1085.4" cy="1090.3" r="6.8" fill="#ff0080"/>
<circle cx="1094.6" cy="1090.3" r="6.8" fill="#ff0080"/>
<circle cx="1103.8" cy="1206.7" r="6.8" fill="#ff0080"/>
<circle cx="1112.9" cy="1206.7" r="6.8" fill="#ff0080"/>
<circle cx="1122.1" cy="1328.8" r="6.8" fill="#ff0080"/>
<circle cx="1131.3" cy="1328.8" r="6.8" fill="#ff0080"/>
<circle cx="1140.5" cy="1305.1" r="6.8" fill="#ff0080"/>
<circle cx="1149.6" cy="1305.1" r="6.8" fill="#ff0080"/>
<circle cx="1158.8" cy="1264.4" r="6.8" fill="#ff0080"/>
<circle cx="1168" cy="1264.4" r="6.8" fill="#ff0080"/>
<circle cx="1177.2" cy="1234.5" r="6.8" fill="#ff0080"/>
<circle cx="1186.3" cy="1234.5" r="6.8" fill="#ff0080"/>
<line x1="131" y1="17.5" x2="131" y2="333.6" stroke="#000" stroke-width="3" fill="none"/>
<line x1="1223.5" y1="17.5" x2="1223.5" y2="333.6" stroke="#000" stroke-width="3" fill="none"/>
<line x1="121" y1="333.6" x2="1233.5" y2="333.6" stroke="#000" stroke-width="3" fill="none"/>
<line x1="121" y1="333.6" x2="131" y2="333.6" stroke="#000" stroke-width="3" fill="none"/>
<line x1="121" y1="255" x2="131" y2="255" stroke="#000" stroke-width="3" fill="none"/>
<line x1="121" y1="176.3" x2="131" y2="176.3" stroke="#000" stroke-width="3" fill="none"/>
<line x1="121" y1="97.7" x2="131" y2="97.7" stroke="#000" stroke-width="3" fill="none"/>
<line x1="121" y1="19" x2="131" y2="19" stroke="#000" stroke-width="3" fill="none"/>
<line x1="123" y1="294.3" x2="131" y2="294.3" stroke="#000" stroke-width="3" fill="none"/>
<line x1="123" y1="215.6" x2="131" y2="215.6" stroke="#000" stroke-width="3" fill="none"/>
<line x1="123" y1="137" x2="131" y2="137" stroke="#000" stroke-width="3" fill="none"/>
<line x1="123" y1="58.3" x2="131" y2="58.3" stroke="#000" stroke-width="3" fill="none"/>
<line x1="1223.5" y1="333.6" x2="1233.5" y2="333.6" stroke="#000" stroke-width="3" fill="none"/>
<line x1="1223.5" y1="255" x2="1233.5" y2="255" stroke="#000" stroke-width="3" fill="none"/>
<line x1="1223.5" y1="176.3" x2="1233.5" y2="176.3" stroke="#000" stroke-width="3" fill="none"/>
<line x1="1223.5" y1="97.7" x2="1233.5" y2="97.7" stroke="#000" stroke-width="3" fill="none"/>
<line x1="1223.5" y1="19" x2="1233.5" y2="19" stroke="#000" stroke-width="3" fill="none"/>
<line x1="1223.5" y1="294.3" x2="1231.5" y2="294.3" stroke="#000" stroke-width="3" fill="none"/>
<line x1="1223.5" y1="215.6" x2="1231.5" y2="215.6" stroke="#000" stroke-width="3" fill="none"/>
<line x1="1223.5" y1="137" x2="1231.5" y2="137" stroke="#000" stroke-width="3" fill="none"/>
<line x1="1223.5" y1="58.3" x2="1231.5" y2="58.3" stroke="#000" stroke-width="3" fill="none"/>
<line x1="157.9" y1="333.6" x2="157.9" y2="342.1" stroke="#000" stroke-width="3" fill="none"/>
<line x1="194.7" y1="333.6" x2="194.7" y2="342.1" stroke="#000" stroke-width="3" fill="none"/>
<line x1="231.5" y1="333.6" x2="231.5" y2="342.1" stroke="#000" stroke-width="3" fill="none"/>
<line x1="268.2" y1="333.6" x2="268.2" y2="342.1" stroke="#000" stroke-width="3" fill="none"/>
<line x1="305" y1="333.6" x2="305" y2="342.1" stroke="#000" stroke-width="3" fill="none"/>
<line x1="341.8" y1="333.6" x2="341.8" y2="342.1" stroke="#000" stroke-width="3" fill="none"/>
<line x1="378.6" y1="333.6" x2="378.6" y2="342.1" stroke="#000" stroke-width="3" fill="none"/>
<line x1="415.3" y1="333.6" x2="415.3" y2="342.1" stroke="#000" stroke-width="3" fill="none"/>
<line x1="452.1" y1="333.6" x2="452.1" y2="342.1" stroke="#000" stroke-width="3" fill="none"/>
<line x1="488.9" y1="333.6" x2="488.9" y2="342.1" stroke="#000" stroke-width="3" fill="none"/>
<line x1="525.6" y1="333.6" x2="525.6" y2="342.1" stroke="#000" stroke-width="3" fill="none"/>
<line x1="562.4" y1="333.6" x2="562.4" y2="342.1" stroke="#000" stroke-width="3" fill="none"/>
<line x1="599.2" y1="333.6" x2="599.2" y2="342.1" stroke="#000" stroke-width="3" fill="none"/>
<line x1="636" y1="333.6" x2="636" y2="342.1" stroke="#000" stroke-width="3" fill="none"/>
<line x1="672.7" y1="333.6" x2="672.7" y2="342.1" stroke="#000" stroke-width="3" fill="none"/>
<line x1="709.5" y1="333.6" x2="709.5" y2="342.1" stroke="#000" stroke-width="3" fill="none"/>
<line x1="746.3" y1="333.6" x2="746.3" y2="342.1" stroke="#000" stroke-width="3" fill="none"/>
<line x1="783" y1="333.6" x2="783" y2="342.1" stroke="#000" stroke-width="3" fill="none"/>
<line x1="819.8" y1="333.6" x2="819.8" y2="342.1" stroke="#000" stroke-width="3" fill="none"/>
<line x1="856.6" y1="333.6" x2="856.6" y2="342.1" stroke="#000" stroke-width="3" fill="none"/>
<line x1="893.4" y1="333.6" x2="893.4" y2="342.1" stroke="#000" stroke-width="3" fill="none"/>
<line x1="930.1" y1="333.6" x2="930.1" y2="342.1" stroke="#000" stroke-width="3" fill="none"/>
<line x1="966.9" y1="333.6" x2="966.9" y2="342.1" stroke="#000" stroke-width="3" fill="none"/>
<line x1="1003.7" y1="333.6" x2="1003.7" y2="342.1" stroke="#000" stroke-width="3" fill="none"/>
<line x1="1040.4" y1="333.6" x2="1040.4" y2="342.1" stroke="#000" stroke-width="3" fill="none"/>
<line x1="1077.2" y1="333.6" x2="1077.2" y2="342.1" stroke="#000" stroke-width="3" fill="none"/>
<line x1="1114" y1="333.6" x2="1114" y2="342.1" stroke="#000" stroke-width="3" fill="none"/>
<line x1="1150.8" y1="333.6" x2="1150.8" y2="342.1" stroke="#000" stroke-width="3" fill="none"/>
<line x1="1187.5" y1="333.6" x2="1187.5" y2="342.1" stroke="#000" stroke-width="3" fill="none"/>
<line x1="1224.3" y1="333.6" x2="1224.3" y2="342.1" stroke="#000" stroke-width="3" fill="none"/>
<line x1="131" y1="356" x2="131" y2="672.7" stroke="#000" stroke-width="3" fill="none"/>
<line x1="1223.5" y1="356" x2="1223.5" y2="672.7" stroke="#000" stroke-width="3" fill="none"/>
<line x1="121" y1="672.7" x2="1233.5" y2="672.7" stroke="#000" stroke-width="3" fill="none"/>
<line x1="121" y1="672.6" x2="131" y2="672.6" stroke="#000" stroke-width="3" fill="none"/>
<line x1="121" y1="593.8" x2="131" y2="593.8" stroke="#000" stroke-width="3" fill="none"/>
<line x1="121" y1="515" x2="131" y2="515" stroke="#000" stroke-width="3" fill="none"/>
<line x1="121" y1="436.3" x2="131" y2="436.3" stroke="#000" stroke-width="3" fill="none"/>
<line x1="121" y1="357.5" x2="131" y2="357.5" stroke="#000" stroke-width="3" fill="none"/>
<line x1="123" y1="633.2" x2="131" y2="633.2" stroke="#000" stroke-width="3" fill="none"/>
<line x1="123" y1="554.4" x2="131" y2="554.4" stroke="#000" stroke-width="3" fill="none"/>
<line x1="123" y1="475.7" x2="131" y2="475.7" stroke="#000" stroke-width="3" fill="none"/>
<line x1="123" y1="396.9" x2="131" y2="396.9" stroke="#000" stroke-width="3" fill="none"/>
<line x1="1223.5" y1="672.6" x2="1233.5" y2="672.6" stroke="#000" stroke-width="3" fill="none"/>
<line x1="1223.5" y1="593.8" x2="1233.5" y2="593.8" stroke="#000" stroke-width="3" fill="none"/>
<line x1="1223.5" y1="515" x2="1233.5" y2="515" stroke="#000" stroke-width="3" fill="none"/>
<line x1="1223.5" y1="436.3" x2="1233.5" y2="436.3" stroke="#000" stroke-width="3" fill="none"/>
<line x1="1223.5" y1="357.5" x2="1233.5" y2="357.5" stroke="#000" stroke-width="3" fill="none"/>
<line x1="1223.5" y1="633.2" x2="1231.5" y2="633.2" stroke="#000" stroke-width="3" fill="none"/>
<line x1="1223.5" y1="554.4" x2="1231.5" y2="554.4" stroke="#000" stroke-width="3" fill="none"/>
<line x1="1223.5" y1="475.7" x2="1231.5" y2="475.7" stroke="#000" stroke-width="3" fill="none"/>
<line x1="1223.5" y1="396.9" x2="1231.5" y2="396.9" stroke="#000" stroke-width="3" fill="none"/>
<line x1="157.9" y1="672.7" x2="157.9" y2="681.2" stroke="#000" stroke-width="3" fill="none"/>
<line x1="194.7" y1="672.7" x2="194.7" y2="681.2" stroke="#000" stroke-width="3" fill="none"/>
<line x1="231.5" y1="672.7" x2="231.5" y2="681.2" stroke="#000" stroke-width="3" fill="none"/>
<line x1="268.2" y1="672.7" x2="268.2" y2="681.2" stroke="#000" stroke-width="3" fill="none"/>
<line x1="305" y1="672.7" x2="305" y2="681.2" stroke="#000" stroke-width="3" fill="none"/>
<line x1="341.8" y1="672.7" x2="341.8" y2="681.2" stroke="#000" stroke-width="3" fill="none"/>
<line x1="378.6" y1="672.7" x2="378.6" y2="681.2" stroke="#000" stroke-width="3" fill="none"/>
<line x1="415.3" y1="672.7" x2="415.3" y2="681.2" stroke="#000" stroke-width="3" fill="none"/>
<line x1="452.1" y1="672.7" x2="452.1" y2="681.2" stroke="#000" stroke-width="3" fill="none"/>
<line x1="488.9" y1="672.7" x2="488.9" y2="681.2" stroke="#000" stroke-width="3" fill="none"/>
<line x1="525.6" y1="672.7" x2="525.6" y2="681.2" stroke="#000" stroke-width="3" fill="none"/>
<line x1="562.4" y1="672.7" x2="562.4" y2="681.2" stroke="#000" stroke-width="3" fill="none"/>
<line x1="599.2" y1="672.7" x2="599.2" y2="681.2" stroke="#000" stroke-width="3" fill="none"/>
<line x1="636" y1="672.7" x2="636" y2="681.2" stroke="#000" stroke-width="3" fill="none"/>
<line x1="672.7" y1="672.7" x2="672.7" y2="681.2" stroke="#000" stroke-width="3" fill="none"/>
<line x1="709.5" y1="672.7" x2="709.5" y2="681.2" stroke="#000" stroke-width="3" fill="none"/>
<line x1="746.3" y1="672.7" x2="746.3" y2="681.2" stroke="#000" stroke-width="3" fill="none"/>
<line x1="783" y1="672.7" x2="783" y2="681.2" stroke="#000" stroke-width="3" fill="none"/>
<line x1="819.8" y1="672.7" x2="819.8" y2="681.2" stroke="#000" stroke-width="3" fill="none"/>
<line x1="856.6" y1="672.7" x2="856.6" y2="681.2" stroke="#000" stroke-width="3" fill="none"/>
<line x1="893.4" y1="672.7" x2="893.4" y2="681.2" stroke="#000" stroke-width="3" fill="none"/>
<line x1="930.1" y1="672.7" x2="930.1" y2="681.2" stroke="#000" stroke-width="3" fill="none"/>
<line x1="966.9" y1="672.7" x2="966.9" y2="681.2" stroke="#000" stroke-width="3" fill="none"/>
<line x1="1003.7" y1="672.7" x2="1003.7" y2="681.2" stroke="#000" stroke-width="3" fill="none"/>
<line x1="1040.4" y1="672.7" x2="1040.4" y2="681.2" stroke="#000" stroke-width="3" fill="none"/>
<line x1="1077.2" y1="672.7" x2="1077.2" y2="681.2" stroke="#000" stroke-width="3" fill="none"/>
<line x1="1114" y1="672.7" x2="1114" y2="681.2" stroke="#000" stroke-width="3" fill="none"/>
<line x1="1150.8" y1="672.7" x2="1150.8" y2="681.2" stroke="#000" stroke-width="3" fill="none"/>
<line x1="1187.5" y1="672.7" x2="1187.5" y2="681.2" stroke="#000" stroke-width="3" fill="none"/>
<line x1="1224.3" y1="672.7" x2="1224.3" y2="681.2" stroke="#000" stroke-width="3" fill="none"/>
<line x1="131" y1="702" x2="131" y2="1017.6" stroke="#000" stroke-width="3" fill="none"/>
<line x1="1223.5" y1="702" x2="1223.5" y2="1017.6" stroke="#000" stroke-width="3" fill="none"/>
<line x1="121" y1="1017.6" x2="1233.5" y2="1017.6" stroke="#000" stroke-width="3" fill="none"/>
<line x1="121" y1="1017.6" x2="131" y2="1017.6" stroke="#000" stroke-width="3" fill="none"/>
<line x1="121" y1="954.8" x2="131" y2="954.8" stroke="#000" stroke-width="3" fill="none"/>
<line x1="121" y1="892" x2="131" y2="892" stroke="#000" stroke-width="3" fill="none"/>
<line x1="121" y1="829.1" x2="131" y2="829.1" stroke="#000" stroke-width="3" fill="none"/>
<line x1="121" y1="766.3" x2="131" y2="766.3" stroke="#000" stroke-width="3" fill="none"/>
<line x1="121" y1="703.5" x2="131" y2="703.5" stroke="#000" stroke-width="3" fill="none"/>
<line x1="123" y1="986.2" x2="131" y2="986.2" stroke="#000" stroke-width="3" fill="none"/>
<line x1="123" y1="923.4" x2="131" y2="923.4" stroke="#000" stroke-width="3" fill="none"/>
<line x1="123" y1="860.5" x2="131" y2="860.5" stroke="#000" stroke-width="3" fill="none"/>
<line x1="123" y1="797.7" x2="131" y2="797.7" stroke="#000" stroke-width="3" fill="none"/>
<line x1="123" y1="734.9" x2="131" y2="734.9" stroke="#000" stroke-width="3" fill="none"/>
<line x1="1223.5" y1="1017.6" x2="1233.5" y2="1017.6" stroke="#000" stroke-width="3" fill="none"/>
<line x1="1223.5" y1="912.9" x2="1233.5" y2="912.9" stroke="#000" stroke-width="3" fill="none"/>
<line x1="1223.5" y1="808.2" x2="1233.5" y2="808.2" stroke="#000" stroke-width="3" fill="none"/>
<line x1="1223.5" y1="703.5" x2="1233.5" y2="703.5" stroke="#000" stroke-width="3" fill="none"/>
<line x1="1223.5" y1="965.2" x2="1231.5" y2="965.2" stroke="#000" stroke-width="3" fill="none"/>
<line x1="1223.5" y1="860.5" x2="1231.5" y2="860.5" stroke="#000" stroke-width="3" fill="none"/>
<line x1="1223.5" y1="755.9" x2="1231.5" y2="755.9" stroke="#000" stroke-width="3" fill="none"/>
<line x1="157.9" y1="1017.6" x2="157.9" y2="1026.1" stroke="#000" stroke-width="3" fill="none"/>
<line x1="194.7" y1="1017.6" x2="194.7" y2="1026.1" stroke="#000" stroke-width="3" fill="none"/>
<line x1="231.5" y1="1017.6" x2="231.5" y2="1026.1" stroke="#000" stroke-width="3" fill="none"/>
<line x1="268.2" y1="1017.6" x2="268.2" y2="1026.1" stroke="#000" stroke-width="3" fill="none"/>
<line x1="305" y1="1017.6" x2="305" y2="1026.1" stroke="#000" stroke-width="3" fill="none"/>
<line x1="341.8" y1="1017.6" x2="341.8" y2="1026.1" stroke="#000" stroke-width="3" fill="none"/>
<line x1="378.6" y1="1017.6" x2="378.6" y2="1026.1" stroke="#000" stroke-width="3" fill="none"/>
<line x1="415.3" y1="1017.6" x2="415.3" y2="1026.1" stroke="#000" stroke-width="3" fill="none"/>
<line x1="452.1" y1="1017.6" x2="452.1" y2="1026.1" stroke="#000" stroke-width="3" fill="none"/>
<line x1="488.9" y1="1017.6" x2="488.9" y2="1026.1" stroke="#000" stroke-width="3" fill="none"/>
<line x1="525.6" y1="1017.6" x2="525.6" y2="1026.1" stroke="#000" stroke-width="3" fill="none"/>
<line x1="562.4" y1="1017.6" x2="562.4" y2="1026.1" stroke="#000" stroke-width="3" fill="none"/>
<line x1="599.2" y1="1017.6" x2="599.2" y2="1026.1" stroke="#000" stroke-width="3" fill="none"/>
<line x1="636" y1="1017.6" x2="636" y2="1026.1" stroke="#000" stroke-width="3" fill="none"/>
<line x1="672.7" y1="1017.6" x2="672.7" y2="1026.1" stroke="#000" stroke-width="3" fill="none"/>
<line x1="709.5" y1="1017.6" x2="709.5" y2="1026.1" stroke="#000" stroke-width="3" fill="none"/>
<line x1="746.3" y1="1017.6" x2="746.3" y2="1026.1" stroke="#000" stroke-width="3" fill="none"/>
<line x1="783" y1="1017.6" x2="783" y2="1026.1" stroke="#000" stroke-width="3" fill="none"/>
<line x1="819.8" y1="1017.6" x2="819.8" y2="1026.1" stroke="#000" stroke-width="3" fill="none"/>
<line x1="856.6" y1="1017.6" x2="856.6" y2="1026.1" stroke="#000" stroke-width="3" fill="none"/>
<line x1="893.4" y1="1017.6" x2="893.4" y2="1026.1" stroke="#000" stroke-width="3" fill="none"/>
<line x1="930.1" y1="1017.6" x2="930.1" y2="1026.1" stroke="#000" stroke-width="3" fill="none"/>
<line x1="966.9" y1="1017.6" x2="966.9" y2="1026.1" stroke="#000" stroke-width="3" fill="none"/>
<line x1="1003.7" y1="1017.6" x2="1003.7" y2="1026.1" stroke="#000" stroke-width="3" fill="none"/>
<line x1="1040.4" y1="1017.6" x2="1040.4" y2="1026.1" stroke="#000" stroke-width="3" fill="none"/>
<line x1="1077.2" y1="1017.6" x2="1077.2" y2="1026.1" stroke="#000" stroke-width="3" fill="none"/>
<line x1="1114" y1="1017.6" x2="1114" y2="1026.1" stroke="#000" stroke-width="3" fill="none"/>
<line x1="1150.8" y1="1017.6" x2="1150.8" y2="1026.1" stroke="#000" stroke-width="3" fill="none"/>
<line x1="1187.5" y1="1017.6" x2="1187.5" y2="1026.1" stroke="#000" stroke-width="3" fill="none"/>
<line x1="1224.3" y1="1017.6" x2="1224.3" y2="1026.1" stroke="#000" stroke-width="3" fill="none"/>
<line x1="131" y1="1054.7" x2="131" y2="1371.4" stroke="#000" stroke-width="3" fill="none"/>
<line x1="1223.5" y1="1054.7" x2="1223.5" y2="1371.4" stroke="#000" stroke-width="3" fill="none"/>
<line x1="121" y1="1371.4" x2="1233.5" y2="1371.4" stroke="#000" stroke-width="3" fill="none"/>
<line x1="121" y1="1371" x2="131" y2="1371" stroke="#000" stroke-width="3" fill="none"/>
<line x1="121" y1="1308" x2="131" y2="1308" stroke="#000" stroke-width="3" fill="none"/>
<line x1="121" y1="1245.1" x2="131" y2="1245.1" stroke="#000" stroke-width="3" fill="none"/>
<line x1="121" y1="1182.1" x2="131" y2="1182.1" stroke="#000" stroke-width="3" fill="none"/>
<line x1="121" y1="1119.2" x2="131" y2="1119.2" stroke="#000" stroke-width="3" fill="none"/>
<line x1="121" y1="1056.2" x2="131" y2="1056.2" stroke="#000" stroke-width="3" fill="none"/>
<line x1="123" y1="1339.5" x2="131" y2="1339.5" stroke="#000" stroke-width="3" fill="none"/>
<line x1="123" y1="1276.6" x2="131" y2="1276.6" stroke="#000" stroke-width="3" fill="none"/>
<line x1="123" y1="1213.6" x2="131" y2="1213.6" stroke="#000" stroke-width="3" fill="none"/>
<line x1="123" y1="1150.6" x2="131" y2="1150.6" stroke="#000" stroke-width="3" fill="none"/>
<line x1="123" y1="1087.7" x2="131" y2="1087.7" stroke="#000" stroke-width="3" fill="none"/>
<line x1="1223.5" y1="1371" x2="1233.5" y2="1371" stroke="#000" stroke-width="3" fill="none"/>
<line x1="1223.5" y1="1266.1" x2="1233.5" y2="1266.1" stroke="#000" stroke-width="3" fill="none"/>
<line x1="1223.5" y1="1161.1" x2="1233.5" y2="1161.1" stroke="#000" stroke-width="3" fill="none"/>
<line x1="1223.5" y1="1056.2" x2="1233.5" y2="1056.2" stroke="#000" stroke-width="3" fill="none"/>
<line x1="1223.5" y1="1318.5" x2="1231.5" y2="1318.5" stroke="#000" stroke-width="3" fill="none"/>
<line x1="1223.5" y1="1213.6" x2="1231.5" y2="1213.6" stroke="#000" stroke-width="3" fill="none"/>
<line x1="1223.5" y1="1108.7" x2="1231.5" y2="1108.7" stroke="#000" stroke-width="3" fill="none"/>
<line x1="157.9" y1="1371.4" x2="157.9" y2="1379.9" stroke="#000" stroke-width="3" fill="none"/>
<line x1="194.7" y1="1371.4" x2="194.7" y2="1379.9" stroke="#000" stroke-width="3" fill="none"/>
<line x1="231.5" y1="1371.4" x2="231.5" y2="1379.9" stroke="#000" stroke-width="3" fill="none"/>
<line x1="268.2" y1="1371.4" x2="268.2" y2="1379.9" stroke="#000" stroke-width="3" fill="none"/>
<line x1="305" y1="1371.4" x2="305" y2="1379.9" stroke="#000" stroke-width="3" fill="none"/>
<line x1="341.8" y1="1371.4" x2="341.8" y2="1379.9" stroke="#000" stroke-width="3" fill="none"/>
<line x1="378.6" y1="1371.4" x2="378.6" y2="1379.9" stroke="#000" stroke-width="3" fill="none"/>
<line x1="415.3" y1="1371.4" x2="415.3" y2="1379.9" stroke="#000" stroke-width="3" fill="none"/>
<line x1="452.1" y1="1371.4" x2="452.1" y2="1379.9" stroke="#000" stroke-width="3" fill="none"/>
<line x1="488.9" y1="1371.4" x2="488.9" y2="1379.9" stroke="#000" stroke-width="3" fill="none"/>
<line x1="525.6" y1="1371.4" x2="525.6" y2="1379.9" stroke="#000" stroke-width="3" fill="none"/>
<line x1="562.4" y1="1371.4" x2="562.4" y2="1379.9" stroke="#000" stroke-width="3" fill="none"/>
<line x1="599.2" y1="1371.4" x2="599.2" y2="1379.9" stroke="#000" stroke-width="3" fill="none"/>
<line x1="636" y1="1371.4" x2="636" y2="1379.9" stroke="#000" stroke-width="3" fill="none"/>
<line x1="672.7" y1="1371.4" x2="672.7" y2="1379.9" stroke="#000" stroke-width="3" fill="none"/>
<line x1="709.5" y1="1371.4" x2="709.5" y2="1379.9" stroke="#000" stroke-width="3" fill="none"/>
<line x1="746.3" y1="1371.4" x2="746.3" y2="1379.9" stroke="#000" stroke-width="3" fill="none"/>
<line x1="783" y1="1371.4" x2="783" y2="1379.9" stroke="#000" stroke-width="3" fill="none"/>
<line x1="819.8" y1="1371.4" x2="819.8" y2="1379.9" stroke="#000" stroke-width="3" fill="none"/>
<line x1="856.6" y1="1371.4" x2="856.6" y2="1379.9" stroke="#000" stroke-width="3" fill="none"/>
<line x1="893.4" y1="1371.4" x2="893.4" y2="1379.9" stroke="#000" stroke-width="3" fill="none"/>
<line x1="930.1" y1="1371.4" x2="930.1" y2="1379.9" stroke="#000" stroke-width="3" fill="none"/>
<line x1="966.9" y1="1371.4" x2="966.9" y2="1379.9" stroke="#000" stroke-width="3" fill="none"/>
<line x1="1003.7" y1="1371.4" x2="1003.7" y2="1379.9" stroke="#000" stroke-width="3" fill="none"/>
<line x1="1040.4" y1="1371.4" x2="1040.4" y2="1379.9" stroke="#000" stroke-width="3" fill="none"/>
<line x1="1077.2" y1="1371.4" x2="1077.2" y2="1379.9" stroke="#000" stroke-width="3" fill="none"/>
<line x1="1114" y1="1371.4" x2="1114" y2="1379.9" stroke="#000" stroke-width="3" fill="none"/>
<line x1="1150.8" y1="1371.4" x2="1150.8" y2="1379.9" stroke="#000" stroke-width="3" fill="none"/>
<line x1="1187.5" y1="1371.4" x2="1187.5" y2="1379.9" stroke="#000" stroke-width="3" fill="none"/>
<line x1="1224.3" y1="1371.4" x2="1224.3" y2="1379.9" stroke="#000" stroke-width="3" fill="none"/>
<text x="113.6" y="342.6" text-anchor="end" font-size="37.5">20</text>
<text x="113.6" y="264" text-anchor="end" font-size="37.5">25</text>
<text x="113.6" y="185.3" text-anchor="end" font-size="37.5">30</text>
<text x="113.6" y="106.7" text-anchor="end" font-size="37.5">35</text>
<text x="113.6" y="28" text-anchor="end" font-size="37.5">40</text>
<text x="1241.5" y="340.9" font-size="37.5">0</text>
<text x="1241.5" y="262.2" font-size="37.5">25</text>
<text x="1241.5" y="183.6" font-size="37.5">50</text>
<text x="1241.5" y="105" font-size="37.5">75</text>
<text x="1241.5" y="26.3" font-size="37.5">100</text>
<text x="113.6" y="683.3" text-anchor="end" font-size="37.5">0</text>
<text x="113.6" y="604.5" text-anchor="end" font-size="37.5">10</text>
<text x="113.6" y="525.8" text-anchor="end" font-size="37.5">20</text>
<text x="113.6" y="447" text-anchor="end" font-size="37.5">30</text>
<text x="113.6" y="368.2" text-anchor="end" font-size="37.5">40</text>
<text x="1241.5" y="683.1" font-size="37.5">0</text>
<text x="1241.5" y="604.3" font-size="37.5">1</text>
<text x="1241.5" y="525.5" font-size="37.5">2</text>
<text x="1241.5" y="446.8" font-size="37.5">3</text>
<text x="1241.5" y="368" font-size="37.5">4</text>
<text x="113.6" y="1028.5" text-anchor="end" font-size="37.5">0</text>
<text x="113.6" y="965.7" text-anchor="end" font-size="37.5">20</text>
<text x="113.6" y="902.9" text-anchor="end" font-size="37.5">40</text>
<text x="113.6" y="840" text-anchor="end" font-size="37.5">60</text>
<text x="113.6" y="777.2" text-anchor="end" font-size="37.5">80</text>
<text x="113.6" y="714.4" text-anchor="end" font-size="37.5">100</text>
<text x="1241.5" y="1028.2" font-size="37.5">0</text>
<text x="1241.5" y="923.5" font-size="37.5">1</text>
<text x="1241.5" y="818.8" font-size="37.5">2</text>
<text x="1241.5" y="714.1" font-size="37.5">3</text>
<text x="113.6" y="1382.4" text-anchor="end" font-size="37.5">0</text>
<text x="113.6" y="1319.4" text-anchor="end" font-size="37.5">500</text>
<text x="113.6" y="1256.5" text-anchor="end" font-size="37.5">1000</text>
<text x="113.6" y="1193.5" text-anchor="end" font-size="37.5">1500</text>
<text x="113.6" y="1130.6" text-anchor="end" font-size="37.5">2000</text>
<text x="113.6" y="1067.6" text-anchor="end" font-size="37.5">2500</text>
<text x="1241.5" y="1381.7" font-size="37.5">0.0</text>
<text x="1241.5" y="1276.8" font-size="37.5">0.2</text>
<text x="1241.5" y="1171.8" font-size="37.5">0.4</text>
<text x="1241.5" y="1066.9" font-size="37.5">0.6</text>
<text transform="translate(137.1,1381.6) rotate(-90)" text-anchor="end" font-size="20.8">2:00</text>
<text transform="translate(165,1381.6) rotate(-90)" text-anchor="end" font-size="20.8">14:00</text>
<text transform="translate(133.8,1424.2) rotate(-90)" text-anchor="end" font-size="37.5" letter-spacing="-1">1/14</text>
<text transform="translate(201.8,1381.6) rotate(-90)" text-anchor="end" font-size="20.8">2:00</text>
<text transform="translate(238.6,1381.6) rotate(-90)" text-anchor="end" font-size="20.8">14:00</text>
<text transform="translate(207.3,1424.2) rotate(-90)" text-anchor="end" font-size="37.5" letter-spacing="-1">1/15</text>
<text transform="translate(275.3,1381.6) rotate(-90)" text-anchor="end" font-size="20.8">2:00</text>
<text transform="translate(312.1,1381.6) rotate(-90)" text-anchor="end" font-size="20.8">14:00</text>
<text transform="translate(280.8,1424.2) rotate(-90)" text-anchor="end" font-size="37.5" letter-spacing="-1">1/16</text>
<text transform="translate(348.9,1381.6) rotate(-90)" text-anchor="end" font-size="20.8">2:00</text>
<text transform="translate(385.7,1381.6) rotate(-90)" text-anchor="end" font-size="20.8">14:00</text>
<text transform="translate(354.4,1424.2) rotate(-90)" text-anchor="end" font-size="37.5" letter-spacing="-1">1/17</text>
<text transform="translate(422.4,1381.6) rotate(-90)" text-anchor="end" font-size="20.8">2:00</text>
<text transform="translate(459.2,1381.6) rotate(-90)" text-anchor="end" font-size="20.8">14:00</text>
<text transform="translate(427.9,1424.2) rotate(-90)" text-anchor="end" font-size="37.5" letter-spacing="-1">1/18</text>
<text transform="translate(496,1381.6) rotate(-90)" text-anchor="end" font-size="20.8">2:00</text>
<text transform="translate(532.7,1381.6) rotate(-90)" text-anchor="end" font-size="20.8">14:00</text>
<text transform="translate(501.5,1424.2) rotate(-90)" text-anchor="end" font-size="37.5" letter-spacing="-1">1/19</text>
<text transform="translate(569.5,1381.6) rotate(-90)" text-anchor="end" font-size="20.8">2:00</text>
<text transform="translate(606.3,1381.6) rotate(-90)" text-anchor="end" font-size="20.8">14:00</text>
<text transform="translate(575,1424.2) rotate(-90)" text-anchor="end" font-size="37.5" letter-spacing="-1">1/20</text>
<text transform="translate(643.1,1381.6) rotate(-90)" text-anchor="end" font-size="20.8">2:00</text>
<text transform="translate(679.8,1381.6) rotate(-90)" text-anchor="end" font-size="20.8">14:00</text>
<text transform="translate(648.6,1424.2) rotate(-90)" text-anchor="end" font-size="37.5" letter-spacing="-1">1/21</text>
<text transform="translate(716.6,1381.6) rotate(-90)" text-anchor="end" font-size="20.8">2:00</text>
<text transform="translate(753.4,1381.6) rotate(-90)" text-anchor="end" font-size="20.8">14:00</text>
<text transform="translate(722.1,1424.2) rotate(-90)" text-anchor="end" font-size="37.5" letter-spacing="-1">1/22</text>
<text transform="translate(790.1,1381.6) rotate(-90)" text-anchor="end" font-size="20.8">2:00</text>
<text transform="translate(826.9,1381.6) rotate(-90)" text-anchor="end" font-size="20.8">14:00</text>
<text transform="translate(795.6,1424.2) rotate(-90)" text-anchor="end" font-size="37.5" letter-spacing="-1">1/23</text>
<text transform="translate(863.7,1381.6) rotate(-90)" text-anchor="end" font-size="20.8">2:00</text>
<text transform="translate(900.5,1381.6) rotate(-90)" text-anchor="end" font-size="20.8">14:00</text>
<text transform="translate(869.2,1424.2) rotate(-90)" text-anchor="end" font-size="37.5" letter-spacing="-1">1/24</text>
<text transform="translate(937.2,1381.6) rotate(-90)" text-anchor="end" font-size="20.8">2:00</text>
<text transform="translate(974,1381.6) rotate(-90)" text-anchor="end" font-size="20.8">14:00</text>
<text transform="translate(942.7,1424.2) rotate(-90)" text-anchor="end" font-size="37.5" letter-spacing="-1">1/25</text>
<text transform="translate(1010.8,1381.6) rotate(-90)" text-anchor="end" font-size="20.8">2:00</text>
<text transform="translate(1047.5,1381.6) rotate(-90)" text-anchor="end" font-size="20.8">14:00</text>
<text transform="translate(1016.3,1424.2) rotate(-90)" text-anchor="end" font-size="37.5" letter-spacing="-1">1/26</text>
<text transform="translate(1084.3,1381.6) rotate(-90)" text-anchor="end" font-size="20.8">2:00</text>
<text transform="translate(1121.1,1381.6) rotate(-90)" text-anchor="end" font-size="20.8">14:00</text>
<text transform="translate(1089.8,1424.2) rotate(-90)" text-anchor="end" font-size="37.5" letter-spacing="-1">1/27</text>
<text transform="translate(1157.9,1381.6) rotate(-90)" text-anchor="end" font-size="20.8">2:00</text>
<text transform="translate(1194.6,1381.6) rotate(-90)" text-anchor="end" font-size="20.8">14:00</text>
<text transform="translate(1163.4,1424.2) rotate(-90)" text-anchor="end" font-size="37.5" letter-spacing="-1">1/28</text>
<text transform="translate(1233.6,1381.6) rotate(-90)" text-anchor="end" font-size="20.8">2:00</text>
<text transform="translate(1239.9,1422.4) rotate(-90)" text-anchor="end" font-size="37.5" letter-spacing="-1">1/29</text>
<text x="2.6" y="31.6" font-size="56">a</text>
<text x="2.6" y="374.5" font-size="55">b</text>
<text x="2.6" y="711" font-size="56">c</text>
<text x="2.6" y="1067.8" font-size="55">d</text>
<text transform="translate(45.6,176) rotate(-90)" text-anchor="middle" font-size="37.5">Δ<tspan font-size="24" dy="-15">17</tspan><tspan dy="15">NO</tspan><tspan font-size="24" dy="8">3</tspan><tspan font-size="24" dy="-23">-</tspan><tspan dy="15"> (‰)</tspan></text>
<text transform="translate(43.7,515.2) rotate(-90)" text-anchor="middle" font-size="37.5">O<tspan font-size="24" dy="8">3</tspan><tspan dy="-8"> (ppb)</tspan></text>
<text transform="translate(34.3,845.6) rotate(-90)" text-anchor="middle" font-size="37.5">NO<tspan font-size="24" dy="8">2</tspan><tspan dy="-8" dx="-3"> (ppb)</tspan></text>
<text transform="translate(29.8,1193) rotate(-90)" text-anchor="middle" font-size="37.5">PBLH (m)</text>
<text transform="translate(1328.7,186.8) rotate(-90)" text-anchor="middle" font-size="38">NO<tspan font-size="24" dy="8">3</tspan><tspan font-size="24" dy="-23">-</tspan><tspan dy="15"> (μg m</tspan><tspan font-size="24" dy="-15">-3</tspan><tspan dy="15">)</tspan></text>
<text transform="translate(1337.8,515) rotate(-90)" text-anchor="middle" font-size="36.4">Precipitation (mm)</text>
<text transform="translate(1324.2,860.5) rotate(-90)" text-anchor="middle" font-size="36.4">CO(ppm)</text>
<text transform="translate(1329.2,1221.8) rotate(-90)" text-anchor="middle" font-size="37.5">NOR</text>
<rect x="889.6" y="17" width="278" height="42.5" fill="#fff" stroke="#000" stroke-width="1.2"/>
<line x1="905" y1="38.8" x2="957.5" y2="38.8" stroke="#0000ff" stroke-width="3" stroke-linecap="round"/>
<circle cx="931.7" cy="38.8" r="5.7" fill="#fff" stroke="#0000ff" stroke-width="2.2"/>
<text x="961.6" y="46" font-size="22">Δ<tspan font-size="15" dy="-9">17</tspan><tspan dy="9">NO</tspan><tspan font-size="15" dy="5">3</tspan><tspan font-size="15" dy="-15">-</tspan></text>
<line x1="1057.5" y1="38" x2="1072" y2="38" stroke="#808080" stroke-width="3" stroke-linecap="round"/>
<line x1="1093" y1="38" x2="1107" y2="38" stroke="#808080" stroke-width="3" stroke-linecap="round"/>
<path d="M1082.4 28.4L1090.8 42.8L1074 42.8Z" fill="#808080"/>
<text x="1113.2" y="44.4" font-size="21" style="font-family:Liberation Sans,sans-serif">NO<tspan font-size="15" dy="6">3</tspan><tspan font-size="15" dy="-15">-</tspan></text>
<rect x="911.4" y="358.3" width="290" height="34" fill="#fff" stroke="#000" stroke-width="1.2"/>
<line x1="924.5" y1="375" x2="976" y2="375" stroke="#9900cc" stroke-width="3.4"/>
<text x="981" y="383" font-size="22">O<tspan font-size="15" dy="5">3</tspan></text>
<rect x="1025.5" y="364.7" width="49" height="23.8" fill="#8cffff"/>
<rect x="1025.5" y="364.7" width="49" height="23.8" fill="url(#hatch2)" stroke="#3f6bff" stroke-width="1.1"/>
<text x="1081.4" y="383" font-size="22">Precipitation</text>
<rect x="979.5" y="701" width="226.8" height="29.5" fill="#fff" stroke="#000" stroke-width="1.2"/>
<line x1="993" y1="716.5" x2="1044.7" y2="716.5" stroke="#000099" stroke-width="3.2" stroke-linecap="round"/>
<text x="1047.9" y="724" font-size="24">NO<tspan font-size="17" dy="5">2</tspan></text>
<line x1="1106.4" y1="716.5" x2="1157.6" y2="716.5" stroke="#505050" stroke-width="3.2" stroke-linecap="round"/>
<text x="1161.6" y="724" font-size="24">CO</text>
<rect x="968.3" y="1042.5" width="238" height="33.5" fill="#fff" stroke="#000" stroke-width="1.2"/>
<line x1="976.3" y1="1062" x2="1028.6" y2="1062" stroke="#ff0080" stroke-width="3" stroke-linecap="round"/>
<circle cx="1002.4" cy="1062" r="6.6" fill="#ff0080"/>
<text x="1031.3" y="1069.5" font-size="23.6">NOR</text>
<line x1="1097.6" y1="1061.5" x2="1149.3" y2="1061.5" stroke="#ff0000" stroke-width="3.6" stroke-linecap="round"/>
<text x="1152.4" y="1069.5" font-size="23.3">BLH</text>
</svg>
</body></html>
